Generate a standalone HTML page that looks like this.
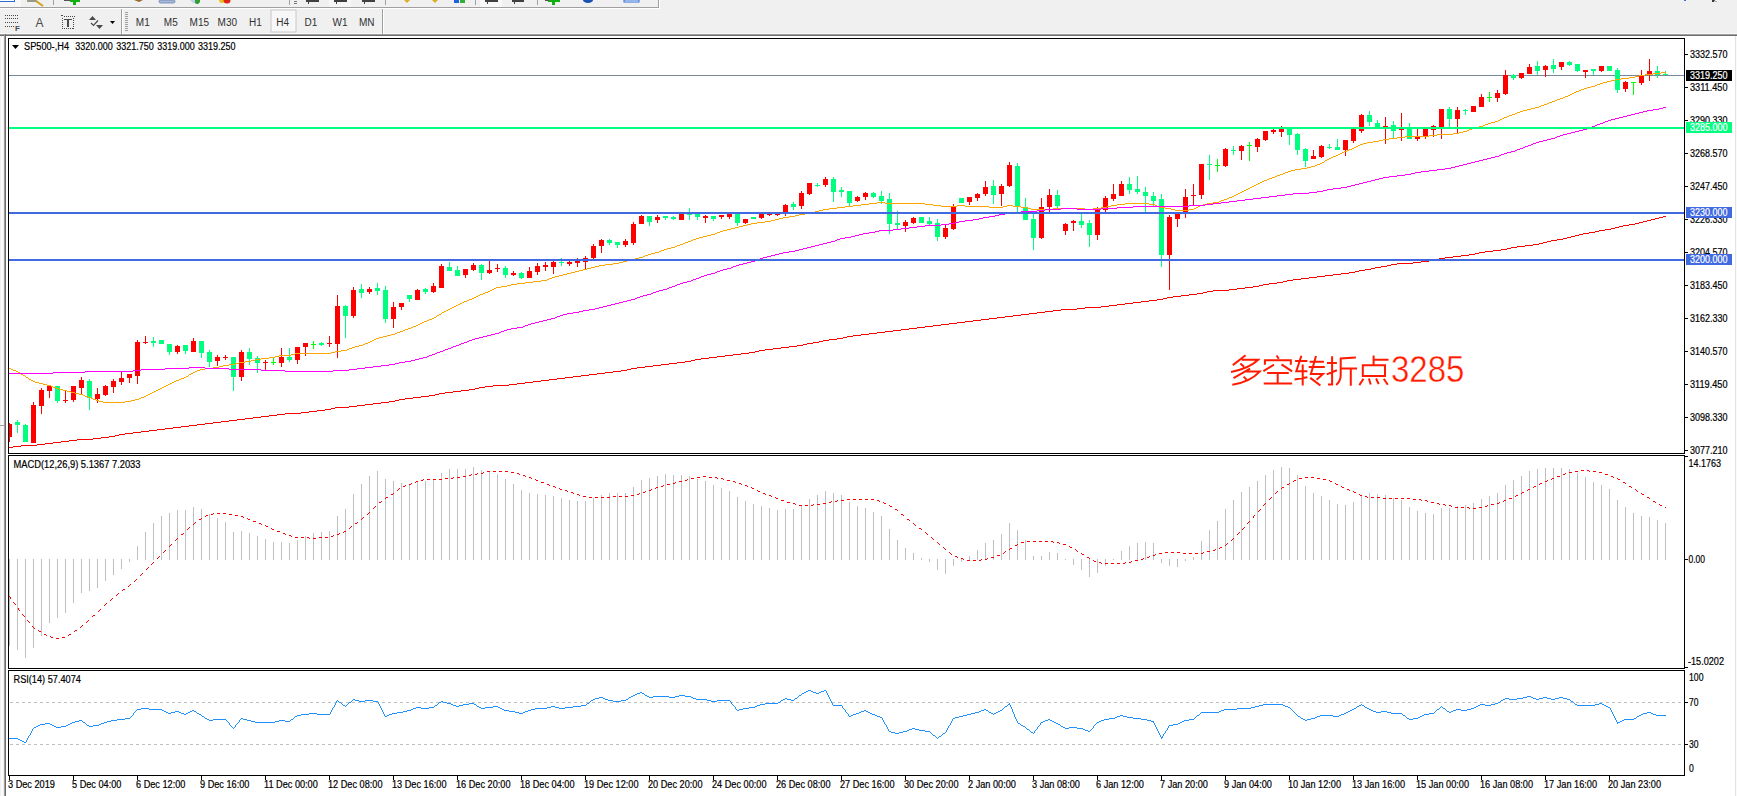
<!DOCTYPE html>
<html><head><meta charset="utf-8"><title>SP500 H4</title>
<style>html,body{margin:0;padding:0;}body{width:1737px;height:796px;overflow:hidden;background:#f0f0f0;font-family:"Liberation Sans",sans-serif;}svg{position:absolute;left:0;top:0;display:block;}</style>
</head><body>
<svg width="1737" height="796" viewBox="0 0 1737 796">
<rect x="0" y="0" width="1737" height="36" fill="#f0f0f0"/>
<rect x="0" y="7" width="659" height="1" fill="#a0a0a0"/>
<rect x="658" y="0" width="1" height="8" fill="#a0a0a0"/>
<rect x="0" y="0" width="21" height="7" fill="#f8f8f8"/>
<rect x="0" y="0" width="15" height="2" fill="#2a6fd6"/><rect x="0" y="0" width="14" height="1" fill="#ffffff"/>
<rect x="27" y="0" width="10" height="2" fill="#9a9a8a"/>
<path d="M36 1 L43 6" stroke="#d4a017" stroke-width="2"/>
<rect x="53" y="0" width="1" height="5" fill="#a0a0a0"/>
<rect x="289" y="0" width="1" height="5" fill="#a0a0a0"/>
<rect x="385" y="0" width="1" height="5" fill="#a0a0a0"/>
<rect x="475" y="0" width="1" height="5" fill="#a0a0a0"/>
<rect x="537" y="0" width="1" height="5" fill="#a0a0a0"/>
<rect x="64" y="0" width="6" height="1" fill="#555"/><rect x="70" y="0" width="10" height="2" fill="#11b011"/><rect x="73" y="0" width="3" height="5" fill="#11b011"/>
<path d="M134 0 L143 0 L139 2 Z" fill="#9a6a2a"/>
<rect x="159" y="0" width="16" height="3" rx="1.5" fill="#a8b8d8" stroke="#6a80b0" stroke-width="0.8"/>
<path d="M190 0 h6 v3 h-3 Z" fill="#c0d0f0"/><path d="M195 0 h5 a3 3 0 0 1 -5 3 Z" fill="#2ea02e"/>
<circle cx="222" cy="0" r="3" fill="#e8c020"/><circle cx="227" cy="0" r="3.5" fill="#e02010"/>
<rect x="294" y="1" width="3" height="1" fill="#777"/><rect x="294" y="3" width="3" height="1" fill="#777"/>
<rect x="306" y="0" width="13" height="2" fill="#404040"/><rect x="308" y="2" width="1" height="2" fill="#404040"/>
<rect x="329" y="0" width="22" height="7" fill="#f8f8f8"/><rect x="334" y="0" width="13" height="2" fill="#404040"/><rect x="336" y="2" width="1" height="2" fill="#404040"/>
<rect x="362" y="0" width="13" height="2" fill="#404040"/><rect x="364" y="2" width="1" height="2" fill="#404040"/>
<path d="M404 0 h6 l-3 3 Z" fill="#d8b020"/><path d="M432 0 h6 l-3 3 Z" fill="#d8b020"/>
<rect x="454" y="0" width="5" height="3" fill="#2060e0"/><rect x="460" y="0" width="5" height="3" fill="#30b030"/>
<rect x="480" y="0" width="22" height="7" fill="#f8f8f8"/><rect x="485" y="0" width="13" height="2" fill="#404040"/><rect x="487" y="2" width="1" height="2" fill="#404040"/>
<rect x="512" y="0" width="12" height="2" fill="#404040"/><rect x="514" y="2" width="1" height="2" fill="#404040"/>
<rect x="548" y="0" width="12" height="2" fill="#11b011"/><rect x="552" y="0" width="3" height="5" fill="#11b011"/><rect x="545" y="0" width="4" height="1" fill="#555"/>
<path d="M583 0 h10 a5 3 0 0 1 -10 0 Z" fill="#1a50b0"/>
<rect x="624" y="0" width="15" height="2" fill="#fff" stroke="#2a6fd6" stroke-width="1"/>
<rect x="1684" y="0" width="2" height="1" fill="#3a70d8"/>
<path d="M1712 0 h3 l-1 2 h-2 Z" fill="#3a3a3a"/><rect x="1715" y="1" width="2" height="1" fill="#b0b0b0"/>
<rect x="0" y="8" width="660" height="1" fill="#ffffff"/>
<rect x="659" y="0" width="1" height="8" fill="#ffffff"/>
<rect x="0" y="33" width="1737" height="1" fill="#f8f8f8"/>
<rect x="0" y="34" width="1737" height="1" fill="#a0a0a0"/>
<rect x="0" y="35" width="1737" height="1" fill="#6d6d6d"/>
<rect x="5" y="15" width="1" height="1" fill="#4a4a4a"/>
<rect x="7" y="15" width="1" height="1" fill="#4a4a4a"/>
<rect x="9" y="15" width="1" height="1" fill="#4a4a4a"/>
<rect x="11" y="15" width="1" height="1" fill="#4a4a4a"/>
<rect x="13" y="15" width="1" height="1" fill="#4a4a4a"/>
<rect x="15" y="15" width="1" height="1" fill="#4a4a4a"/>
<rect x="17" y="15" width="1" height="1" fill="#4a4a4a"/>
<rect x="5" y="18" width="1" height="1" fill="#4a4a4a"/>
<rect x="7" y="18" width="1" height="1" fill="#4a4a4a"/>
<rect x="9" y="18" width="1" height="1" fill="#4a4a4a"/>
<rect x="11" y="18" width="1" height="1" fill="#4a4a4a"/>
<rect x="13" y="18" width="1" height="1" fill="#4a4a4a"/>
<rect x="15" y="18" width="1" height="1" fill="#4a4a4a"/>
<rect x="17" y="18" width="1" height="1" fill="#4a4a4a"/>
<rect x="5" y="22" width="1" height="1" fill="#4a4a4a"/>
<rect x="7" y="22" width="1" height="1" fill="#4a4a4a"/>
<rect x="9" y="22" width="1" height="1" fill="#4a4a4a"/>
<rect x="11" y="22" width="1" height="1" fill="#4a4a4a"/>
<rect x="13" y="22" width="1" height="1" fill="#4a4a4a"/>
<rect x="15" y="22" width="1" height="1" fill="#4a4a4a"/>
<rect x="17" y="22" width="1" height="1" fill="#4a4a4a"/>
<rect x="5" y="26" width="1" height="1" fill="#4a4a4a"/>
<rect x="7" y="26" width="1" height="1" fill="#4a4a4a"/>
<rect x="9" y="26" width="1" height="1" fill="#4a4a4a"/>
<rect x="11" y="26" width="1" height="1" fill="#4a4a4a"/>
<rect x="13" y="26" width="1" height="1" fill="#4a4a4a"/>
<text x="15" y="31" font-family='"Liberation Sans", sans-serif' font-size="8" font-weight="bold" fill="#4a4a4a">F</text>
<text x="35.5" y="27" font-family='"Liberation Sans", sans-serif' font-size="12" fill="#4a4a4a">A</text>
<rect x="62" y="28" width="1" height="1" fill="#4a4a4a"/>
<rect x="64" y="16" width="1" height="1" fill="#4a4a4a"/>
<rect x="64" y="28" width="1" height="1" fill="#4a4a4a"/>
<rect x="66" y="16" width="1" height="1" fill="#4a4a4a"/>
<rect x="66" y="28" width="1" height="1" fill="#4a4a4a"/>
<rect x="68" y="16" width="1" height="1" fill="#4a4a4a"/>
<rect x="68" y="28" width="1" height="1" fill="#4a4a4a"/>
<rect x="70" y="16" width="1" height="1" fill="#4a4a4a"/>
<rect x="70" y="28" width="1" height="1" fill="#4a4a4a"/>
<rect x="72" y="16" width="1" height="1" fill="#4a4a4a"/>
<rect x="72" y="28" width="1" height="1" fill="#4a4a4a"/>
<rect x="74" y="16" width="1" height="1" fill="#4a4a4a"/>
<rect x="62" y="18" width="1" height="1" fill="#4a4a4a"/>
<rect x="73" y="18" width="1" height="1" fill="#4a4a4a"/>
<rect x="62" y="20" width="1" height="1" fill="#4a4a4a"/>
<rect x="73" y="20" width="1" height="1" fill="#4a4a4a"/>
<rect x="62" y="22" width="1" height="1" fill="#4a4a4a"/>
<rect x="73" y="22" width="1" height="1" fill="#4a4a4a"/>
<rect x="62" y="24" width="1" height="1" fill="#4a4a4a"/>
<rect x="73" y="24" width="1" height="1" fill="#4a4a4a"/>
<rect x="62" y="26" width="1" height="1" fill="#4a4a4a"/>
<rect x="73" y="26" width="1" height="1" fill="#4a4a4a"/>
<rect x="62" y="28" width="1" height="1" fill="#4a4a4a"/>
<rect x="73" y="28" width="1" height="1" fill="#4a4a4a"/>
<rect x="61" y="15" width="2" height="1" fill="#4a4a4a"/>
<rect x="64" y="19" width="8" height="1" fill="#4a4a4a"/><rect x="67" y="19" width="2" height="8" fill="#4a4a4a"/>
<path d="M89 20 L92.5 16 L96 20 Z" fill="#4a4a4a"/>
<path d="M91 23 L93.5 25.5 L98 20.5" stroke="#4a4a4a" stroke-width="1.2" fill="none"/>
<path d="M96 25 L103 25 L99.5 29 Z" fill="#4a4a4a"/>
<path d="M110 21 L115 21 L112.5 24 Z" fill="#000"/>
<rect x="121" y="9" width="1" height="25" fill="#a0a0a0"/><rect x="122" y="9" width="1" height="25" fill="#ffffff"/>
<rect x="125" y="12" width="3" height="1" fill="#a0a0a0"/>
<rect x="125" y="14" width="3" height="1" fill="#a0a0a0"/>
<rect x="125" y="16" width="3" height="1" fill="#a0a0a0"/>
<rect x="125" y="18" width="3" height="1" fill="#a0a0a0"/>
<rect x="125" y="20" width="3" height="1" fill="#a0a0a0"/>
<rect x="125" y="22" width="3" height="1" fill="#a0a0a0"/>
<rect x="125" y="24" width="3" height="1" fill="#a0a0a0"/>
<rect x="125" y="26" width="3" height="1" fill="#a0a0a0"/>
<rect x="125" y="28" width="3" height="1" fill="#a0a0a0"/>
<rect x="125" y="30" width="3" height="1" fill="#a0a0a0"/>
<rect x="271" y="10" width="25" height="22" fill="#f7f7f7" stroke="#c8c8c8" stroke-width="1"/>
<text x="142.8" y="26" text-anchor="middle" font-family='"Liberation Sans", sans-serif' font-size="10" fill="#303030">M1</text>
<text x="170.8" y="26" text-anchor="middle" font-family='"Liberation Sans", sans-serif' font-size="10" fill="#303030">M5</text>
<text x="199.3" y="26" text-anchor="middle" font-family='"Liberation Sans", sans-serif' font-size="10" fill="#303030">M15</text>
<text x="227.3" y="26" text-anchor="middle" font-family='"Liberation Sans", sans-serif' font-size="10" fill="#303030">M30</text>
<text x="255.4" y="26" text-anchor="middle" font-family='"Liberation Sans", sans-serif' font-size="10" fill="#303030">H1</text>
<text x="282.6" y="26" text-anchor="middle" font-family='"Liberation Sans", sans-serif' font-size="10" fill="#303030">H4</text>
<text x="311" y="26" text-anchor="middle" font-family='"Liberation Sans", sans-serif' font-size="10" fill="#303030">D1</text>
<text x="340" y="26" text-anchor="middle" font-family='"Liberation Sans", sans-serif' font-size="10" fill="#303030">W1</text>
<text x="366.8" y="26" text-anchor="middle" font-family='"Liberation Sans", sans-serif' font-size="10" fill="#303030">MN</text>
<rect x="382" y="9" width="1" height="25" fill="#a0a0a0"/><rect x="383" y="9" width="1" height="25" fill="#ffffff"/>
<rect x="0" y="36" width="1737" height="760" fill="#f0f0f0"/>
<rect x="1" y="36" width="2" height="760" fill="#fbfbfb"/>
<rect x="4" y="34" width="1" height="762" fill="#a0a0a0"/>
<rect x="5" y="34" width="1" height="762" fill="#696969"/>
<rect x="6" y="36" width="1729" height="760" fill="#ffffff"/>
<rect x="1735" y="36" width="1" height="760" fill="#e3e3e3"/>
<rect x="1736" y="36" width="1" height="760" fill="#fbfbfb"/>
<rect x="0" y="425" width="4" height="1" fill="#a0a0a0"/>
<rect x="8" y="38" width="1677" height="1" fill="#000"/>
<rect x="8" y="453" width="1677" height="1" fill="#000"/>
<rect x="8" y="38" width="1" height="416" fill="#000"/>
<rect x="1684" y="38" width="1" height="416" fill="#000"/>
<rect x="8" y="455" width="1677" height="1" fill="#000"/>
<rect x="8" y="668" width="1677" height="1" fill="#000"/>
<rect x="8" y="455" width="1" height="214" fill="#000"/>
<rect x="1684" y="455" width="1" height="214" fill="#000"/>
<rect x="8" y="670" width="1677" height="1" fill="#000"/>
<rect x="8" y="775" width="1677" height="1" fill="#000"/>
<rect x="8" y="670" width="1" height="106" fill="#000"/>
<rect x="1684" y="670" width="1" height="106" fill="#000"/>
<clipPath id="cm"><rect x="9" y="39" width="1675" height="414"/></clipPath>
<g clip-path="url(#cm)">
<rect x="9" y="75" width="1675" height="1" fill="#778899"/>
<rect x="9" y="423" width="1" height="19" fill="#ff0000"/>
<rect x="7" y="424" width="5" height="13" fill="#ff0000"/>
<rect x="17" y="420" width="1" height="13" fill="#00ff7f"/>
<rect x="15" y="422" width="5" height="3" fill="#00ff7f"/>
<rect x="25" y="424" width="1" height="18" fill="#00ff7f"/>
<rect x="23" y="425" width="5" height="17" fill="#00ff7f"/>
<rect x="33" y="402" width="1" height="41" fill="#ff0000"/>
<rect x="31" y="405" width="5" height="38" fill="#ff0000"/>
<rect x="41" y="388" width="1" height="26" fill="#ff0000"/>
<rect x="39" y="390" width="5" height="16" fill="#ff0000"/>
<rect x="49" y="385" width="1" height="13" fill="#ff0000"/>
<rect x="47" y="386" width="5" height="5" fill="#ff0000"/>
<rect x="57" y="386" width="1" height="17" fill="#00ff7f"/>
<rect x="55" y="386" width="5" height="15" fill="#00ff7f"/>
<rect x="65" y="391" width="1" height="12" fill="#ff0000"/>
<rect x="63" y="400" width="5" height="1" fill="#ff0000"/>
<rect x="73" y="386" width="1" height="16" fill="#ff0000"/>
<rect x="71" y="386" width="5" height="14" fill="#ff0000"/>
<rect x="81" y="377" width="1" height="17" fill="#ff0000"/>
<rect x="79" y="380" width="5" height="8" fill="#ff0000"/>
<rect x="89" y="379" width="1" height="31" fill="#00ff7f"/>
<rect x="87" y="381" width="5" height="17" fill="#00ff7f"/>
<rect x="97" y="388" width="1" height="15" fill="#ff0000"/>
<rect x="95" y="394" width="5" height="5" fill="#ff0000"/>
<rect x="105" y="385" width="1" height="11" fill="#ff0000"/>
<rect x="103" y="386" width="5" height="9" fill="#ff0000"/>
<rect x="113" y="379" width="1" height="14" fill="#ff0000"/>
<rect x="111" y="381" width="5" height="6" fill="#ff0000"/>
<rect x="121" y="371" width="1" height="14" fill="#ff0000"/>
<rect x="119" y="378" width="5" height="4" fill="#ff0000"/>
<rect x="129" y="374" width="1" height="9" fill="#ff0000"/>
<rect x="127" y="374" width="5" height="4" fill="#ff0000"/>
<rect x="137" y="340" width="1" height="44" fill="#ff0000"/>
<rect x="135" y="342" width="5" height="34" fill="#ff0000"/>
<rect x="145" y="336" width="1" height="8" fill="#ff0000"/>
<rect x="143" y="342" width="5" height="1" fill="#ff0000"/>
<rect x="153" y="337" width="1" height="10" fill="#00ff7f"/>
<rect x="151" y="341" width="5" height="2" fill="#00ff7f"/>
<rect x="161" y="340" width="1" height="4" fill="#00ff7f"/>
<rect x="159" y="340" width="5" height="4" fill="#00ff7f"/>
<rect x="169" y="344" width="1" height="11" fill="#00ff7f"/>
<rect x="167" y="344" width="5" height="8" fill="#00ff7f"/>
<rect x="177" y="345" width="1" height="9" fill="#ff0000"/>
<rect x="175" y="346" width="5" height="6" fill="#ff0000"/>
<rect x="185" y="345" width="1" height="9" fill="#00ff7f"/>
<rect x="183" y="345" width="5" height="6" fill="#00ff7f"/>
<rect x="193" y="338" width="1" height="14" fill="#ff0000"/>
<rect x="191" y="341" width="5" height="11" fill="#ff0000"/>
<rect x="201" y="341" width="1" height="17" fill="#00ff7f"/>
<rect x="199" y="341" width="5" height="12" fill="#00ff7f"/>
<rect x="209" y="350" width="1" height="17" fill="#00ff7f"/>
<rect x="207" y="352" width="5" height="10" fill="#00ff7f"/>
<rect x="217" y="355" width="1" height="11" fill="#ff0000"/>
<rect x="215" y="357" width="5" height="4" fill="#ff0000"/>
<rect x="225" y="355" width="1" height="5" fill="#ff0000"/>
<rect x="223" y="357" width="5" height="1" fill="#ff0000"/>
<rect x="233" y="357" width="1" height="34" fill="#00ff7f"/>
<rect x="231" y="357" width="5" height="20" fill="#00ff7f"/>
<rect x="241" y="350" width="1" height="31" fill="#ff0000"/>
<rect x="239" y="352" width="5" height="25" fill="#ff0000"/>
<rect x="249" y="348" width="1" height="17" fill="#00ff7f"/>
<rect x="247" y="352" width="5" height="7" fill="#00ff7f"/>
<rect x="257" y="356" width="1" height="17" fill="#00ff7f"/>
<rect x="255" y="358" width="5" height="5" fill="#00ff7f"/>
<rect x="265" y="360" width="1" height="10" fill="#ff0000"/>
<rect x="263" y="362" width="5" height="1" fill="#ff0000"/>
<rect x="273" y="358" width="1" height="7" fill="#00ff00"/>
<rect x="271" y="362" width="5" height="1" fill="#00ff00"/>
<rect x="281" y="348" width="1" height="19" fill="#ff0000"/>
<rect x="279" y="357" width="5" height="6" fill="#ff0000"/>
<rect x="289" y="348" width="1" height="14" fill="#00ff7f"/>
<rect x="287" y="357" width="5" height="3" fill="#00ff7f"/>
<rect x="297" y="347" width="1" height="17" fill="#ff0000"/>
<rect x="295" y="347" width="5" height="13" fill="#ff0000"/>
<rect x="305" y="343" width="1" height="13" fill="#ff0000"/>
<rect x="303" y="343" width="5" height="4" fill="#ff0000"/>
<rect x="313" y="341" width="1" height="8" fill="#00ff00"/>
<rect x="311" y="344" width="5" height="1" fill="#00ff00"/>
<rect x="321" y="342" width="1" height="4" fill="#00ff7f"/>
<rect x="319" y="343" width="5" height="2" fill="#00ff7f"/>
<rect x="329" y="336" width="1" height="11" fill="#ff0000"/>
<rect x="327" y="343" width="5" height="1" fill="#ff0000"/>
<rect x="337" y="295" width="1" height="63" fill="#ff0000"/>
<rect x="335" y="306" width="5" height="38" fill="#ff0000"/>
<rect x="345" y="305" width="1" height="33" fill="#00ff7f"/>
<rect x="343" y="306" width="5" height="10" fill="#00ff7f"/>
<rect x="353" y="287" width="1" height="31" fill="#ff0000"/>
<rect x="351" y="290" width="5" height="26" fill="#ff0000"/>
<rect x="361" y="284" width="1" height="14" fill="#00ff7f"/>
<rect x="359" y="289" width="5" height="4" fill="#00ff7f"/>
<rect x="369" y="287" width="1" height="7" fill="#ff0000"/>
<rect x="367" y="289" width="5" height="3" fill="#ff0000"/>
<rect x="377" y="283" width="1" height="12" fill="#00ff7f"/>
<rect x="375" y="288" width="5" height="3" fill="#00ff7f"/>
<rect x="385" y="286" width="1" height="37" fill="#00ff7f"/>
<rect x="383" y="290" width="5" height="29" fill="#00ff7f"/>
<rect x="393" y="302" width="1" height="26" fill="#ff0000"/>
<rect x="391" y="307" width="5" height="12" fill="#ff0000"/>
<rect x="401" y="303" width="1" height="7" fill="#ff0000"/>
<rect x="399" y="303" width="5" height="4" fill="#ff0000"/>
<rect x="409" y="295" width="1" height="7" fill="#00ff7f"/>
<rect x="407" y="295" width="5" height="4" fill="#00ff7f"/>
<rect x="417" y="289" width="1" height="11" fill="#ff0000"/>
<rect x="415" y="290" width="5" height="10" fill="#ff0000"/>
<rect x="425" y="288" width="1" height="6" fill="#00ff7f"/>
<rect x="423" y="289" width="5" height="3" fill="#00ff7f"/>
<rect x="433" y="283" width="1" height="10" fill="#ff0000"/>
<rect x="431" y="286" width="5" height="6" fill="#ff0000"/>
<rect x="441" y="264" width="1" height="24" fill="#ff0000"/>
<rect x="439" y="266" width="5" height="22" fill="#ff0000"/>
<rect x="449" y="262" width="1" height="9" fill="#00ff7f"/>
<rect x="447" y="267" width="5" height="4" fill="#00ff7f"/>
<rect x="457" y="266" width="1" height="10" fill="#00ff7f"/>
<rect x="455" y="270" width="5" height="6" fill="#00ff7f"/>
<rect x="465" y="269" width="1" height="9" fill="#ff0000"/>
<rect x="463" y="269" width="5" height="6" fill="#ff0000"/>
<rect x="473" y="263" width="1" height="8" fill="#ff0000"/>
<rect x="471" y="265" width="5" height="5" fill="#ff0000"/>
<rect x="481" y="264" width="1" height="16" fill="#00ff7f"/>
<rect x="479" y="265" width="5" height="8" fill="#00ff7f"/>
<rect x="489" y="261" width="1" height="13" fill="#ff0000"/>
<rect x="487" y="270" width="5" height="3" fill="#ff0000"/>
<rect x="497" y="264" width="1" height="8" fill="#ff0000"/>
<rect x="495" y="268" width="5" height="1" fill="#ff0000"/>
<rect x="505" y="266" width="1" height="12" fill="#00ff7f"/>
<rect x="503" y="268" width="5" height="7" fill="#00ff7f"/>
<rect x="513" y="271" width="1" height="5" fill="#ff0000"/>
<rect x="511" y="273" width="5" height="2" fill="#ff0000"/>
<rect x="521" y="272" width="1" height="7" fill="#00ff7f"/>
<rect x="519" y="273" width="5" height="5" fill="#00ff7f"/>
<rect x="529" y="267" width="1" height="11" fill="#ff0000"/>
<rect x="527" y="271" width="5" height="7" fill="#ff0000"/>
<rect x="537" y="263" width="1" height="12" fill="#ff0000"/>
<rect x="535" y="266" width="5" height="6" fill="#ff0000"/>
<rect x="545" y="262" width="1" height="9" fill="#ff0000"/>
<rect x="543" y="265" width="5" height="2" fill="#ff0000"/>
<rect x="553" y="261" width="1" height="13" fill="#ff0000"/>
<rect x="551" y="262" width="5" height="5" fill="#ff0000"/>
<rect x="561" y="258" width="1" height="8" fill="#00ff7f"/>
<rect x="559" y="262" width="5" height="1" fill="#00ff7f"/>
<rect x="569" y="261" width="1" height="5" fill="#ff0000"/>
<rect x="567" y="262" width="5" height="2" fill="#ff0000"/>
<rect x="577" y="258" width="1" height="9" fill="#ff0000"/>
<rect x="575" y="260" width="5" height="3" fill="#ff0000"/>
<rect x="585" y="256" width="1" height="13" fill="#ff0000"/>
<rect x="583" y="258" width="5" height="4" fill="#ff0000"/>
<rect x="593" y="244" width="1" height="15" fill="#ff0000"/>
<rect x="591" y="246" width="5" height="12" fill="#ff0000"/>
<rect x="601" y="239" width="1" height="14" fill="#ff0000"/>
<rect x="599" y="240" width="5" height="6" fill="#ff0000"/>
<rect x="609" y="239" width="1" height="6" fill="#00ff7f"/>
<rect x="607" y="240" width="5" height="3" fill="#00ff7f"/>
<rect x="617" y="242" width="1" height="6" fill="#00ff7f"/>
<rect x="615" y="242" width="5" height="3" fill="#00ff7f"/>
<rect x="625" y="239" width="1" height="8" fill="#ff0000"/>
<rect x="623" y="241" width="5" height="4" fill="#ff0000"/>
<rect x="633" y="222" width="1" height="23" fill="#ff0000"/>
<rect x="631" y="224" width="5" height="19" fill="#ff0000"/>
<rect x="641" y="215" width="1" height="9" fill="#ff0000"/>
<rect x="639" y="216" width="5" height="8" fill="#ff0000"/>
<rect x="649" y="216" width="1" height="10" fill="#00ff7f"/>
<rect x="647" y="216" width="5" height="6" fill="#00ff7f"/>
<rect x="657" y="215" width="1" height="8" fill="#ff0000"/>
<rect x="655" y="217" width="5" height="3" fill="#ff0000"/>
<rect x="665" y="216" width="1" height="4" fill="#00ff7f"/>
<rect x="663" y="216" width="5" height="2" fill="#00ff7f"/>
<rect x="673" y="216" width="1" height="4" fill="#00ff7f"/>
<rect x="671" y="217" width="5" height="2" fill="#00ff7f"/>
<rect x="681" y="214" width="1" height="6" fill="#ff0000"/>
<rect x="679" y="214" width="5" height="6" fill="#ff0000"/>
<rect x="689" y="208" width="1" height="12" fill="#00ff7f"/>
<rect x="687" y="214" width="5" height="1" fill="#00ff7f"/>
<rect x="697" y="214" width="1" height="6" fill="#00ff7f"/>
<rect x="695" y="214" width="5" height="3" fill="#00ff7f"/>
<rect x="705" y="215" width="1" height="8" fill="#ff0000"/>
<rect x="703" y="216" width="5" height="2" fill="#ff0000"/>
<rect x="713" y="216" width="1" height="5" fill="#00ff7f"/>
<rect x="711" y="216" width="5" height="3" fill="#00ff7f"/>
<rect x="721" y="215" width="1" height="4" fill="#ff0000"/>
<rect x="719" y="215" width="5" height="2" fill="#ff0000"/>
<rect x="729" y="214" width="1" height="5" fill="#ff0000"/>
<rect x="727" y="214" width="5" height="3" fill="#ff0000"/>
<rect x="737" y="214" width="1" height="12" fill="#00ff7f"/>
<rect x="735" y="214" width="5" height="9" fill="#00ff7f"/>
<rect x="745" y="219" width="1" height="5" fill="#ff0000"/>
<rect x="743" y="219" width="5" height="4" fill="#ff0000"/>
<rect x="753" y="217" width="1" height="2" fill="#00ff7f"/>
<rect x="751" y="217" width="5" height="2" fill="#00ff7f"/>
<rect x="761" y="214" width="1" height="5" fill="#ff0000"/>
<rect x="759" y="214" width="5" height="4" fill="#ff0000"/>
<rect x="769" y="213" width="1" height="3" fill="#ff0000"/>
<rect x="767" y="214" width="5" height="1" fill="#ff0000"/>
<rect x="777" y="212" width="1" height="4" fill="#ff0000"/>
<rect x="775" y="213" width="5" height="2" fill="#ff0000"/>
<rect x="785" y="204" width="1" height="12" fill="#ff0000"/>
<rect x="783" y="205" width="5" height="7" fill="#ff0000"/>
<rect x="793" y="202" width="1" height="8" fill="#00ff7f"/>
<rect x="791" y="204" width="5" height="3" fill="#00ff7f"/>
<rect x="801" y="191" width="1" height="18" fill="#ff0000"/>
<rect x="799" y="193" width="5" height="13" fill="#ff0000"/>
<rect x="809" y="183" width="1" height="12" fill="#ff0000"/>
<rect x="807" y="183" width="5" height="11" fill="#ff0000"/>
<rect x="817" y="183" width="1" height="4" fill="#00ff7f"/>
<rect x="815" y="185" width="5" height="1" fill="#00ff7f"/>
<rect x="825" y="177" width="1" height="10" fill="#ff0000"/>
<rect x="823" y="179" width="5" height="6" fill="#ff0000"/>
<rect x="833" y="177" width="1" height="25" fill="#00ff7f"/>
<rect x="831" y="179" width="5" height="13" fill="#00ff7f"/>
<rect x="841" y="187" width="1" height="10" fill="#00ff7f"/>
<rect x="839" y="190" width="5" height="2" fill="#00ff7f"/>
<rect x="849" y="191" width="1" height="15" fill="#00ff7f"/>
<rect x="847" y="191" width="5" height="12" fill="#00ff7f"/>
<rect x="857" y="196" width="1" height="6" fill="#ff0000"/>
<rect x="855" y="197" width="5" height="4" fill="#ff0000"/>
<rect x="865" y="192" width="1" height="8" fill="#ff0000"/>
<rect x="863" y="193" width="5" height="4" fill="#ff0000"/>
<rect x="873" y="192" width="1" height="6" fill="#00ff7f"/>
<rect x="871" y="193" width="5" height="4" fill="#00ff7f"/>
<rect x="881" y="191" width="1" height="13" fill="#00ff7f"/>
<rect x="879" y="196" width="5" height="5" fill="#00ff7f"/>
<rect x="889" y="193" width="1" height="41" fill="#00ff7f"/>
<rect x="887" y="199" width="5" height="25" fill="#00ff7f"/>
<rect x="897" y="211" width="1" height="18" fill="#00ff7f"/>
<rect x="895" y="223" width="5" height="2" fill="#00ff7f"/>
<rect x="905" y="220" width="1" height="12" fill="#ff0000"/>
<rect x="903" y="222" width="5" height="4" fill="#ff0000"/>
<rect x="913" y="217" width="1" height="7" fill="#ff0000"/>
<rect x="911" y="218" width="5" height="5" fill="#ff0000"/>
<rect x="921" y="217" width="1" height="6" fill="#00ff7f"/>
<rect x="919" y="217" width="5" height="6" fill="#00ff7f"/>
<rect x="929" y="217" width="1" height="8" fill="#00ff7f"/>
<rect x="927" y="221" width="5" height="3" fill="#00ff7f"/>
<rect x="937" y="219" width="1" height="22" fill="#00ff7f"/>
<rect x="935" y="223" width="5" height="14" fill="#00ff7f"/>
<rect x="945" y="225" width="1" height="14" fill="#ff0000"/>
<rect x="943" y="228" width="5" height="9" fill="#ff0000"/>
<rect x="953" y="204" width="1" height="26" fill="#ff0000"/>
<rect x="951" y="206" width="5" height="23" fill="#ff0000"/>
<rect x="961" y="198" width="1" height="5" fill="#00ff7f"/>
<rect x="959" y="198" width="5" height="5" fill="#00ff7f"/>
<rect x="969" y="197" width="1" height="8" fill="#ff0000"/>
<rect x="967" y="197" width="5" height="5" fill="#ff0000"/>
<rect x="977" y="193" width="1" height="8" fill="#ff0000"/>
<rect x="975" y="194" width="5" height="4" fill="#ff0000"/>
<rect x="985" y="181" width="1" height="15" fill="#ff0000"/>
<rect x="983" y="187" width="5" height="7" fill="#ff0000"/>
<rect x="993" y="180" width="1" height="24" fill="#00ff7f"/>
<rect x="991" y="186" width="5" height="9" fill="#00ff7f"/>
<rect x="1001" y="184" width="1" height="22" fill="#ff0000"/>
<rect x="999" y="186" width="5" height="8" fill="#ff0000"/>
<rect x="1009" y="162" width="1" height="25" fill="#ff0000"/>
<rect x="1007" y="165" width="5" height="21" fill="#ff0000"/>
<rect x="1017" y="163" width="1" height="49" fill="#00ff7f"/>
<rect x="1015" y="166" width="5" height="41" fill="#00ff7f"/>
<rect x="1025" y="198" width="1" height="22" fill="#00ff7f"/>
<rect x="1023" y="207" width="5" height="13" fill="#00ff7f"/>
<rect x="1033" y="214" width="1" height="36" fill="#00ff7f"/>
<rect x="1031" y="219" width="5" height="19" fill="#00ff7f"/>
<rect x="1041" y="198" width="1" height="41" fill="#ff0000"/>
<rect x="1039" y="207" width="5" height="31" fill="#ff0000"/>
<rect x="1049" y="189" width="1" height="23" fill="#ff0000"/>
<rect x="1047" y="195" width="5" height="12" fill="#ff0000"/>
<rect x="1057" y="190" width="1" height="18" fill="#00ff7f"/>
<rect x="1055" y="195" width="5" height="11" fill="#00ff7f"/>
<rect x="1065" y="223" width="1" height="12" fill="#ff0000"/>
<rect x="1063" y="224" width="5" height="7" fill="#ff0000"/>
<rect x="1073" y="220" width="1" height="11" fill="#ff0000"/>
<rect x="1071" y="221" width="5" height="2" fill="#ff0000"/>
<rect x="1081" y="214" width="1" height="14" fill="#00ff7f"/>
<rect x="1079" y="221" width="5" height="4" fill="#00ff7f"/>
<rect x="1089" y="220" width="1" height="27" fill="#00ff7f"/>
<rect x="1087" y="223" width="5" height="12" fill="#00ff7f"/>
<rect x="1097" y="207" width="1" height="33" fill="#ff0000"/>
<rect x="1095" y="210" width="5" height="25" fill="#ff0000"/>
<rect x="1105" y="196" width="1" height="16" fill="#ff0000"/>
<rect x="1103" y="198" width="5" height="12" fill="#ff0000"/>
<rect x="1113" y="184" width="1" height="17" fill="#ff0000"/>
<rect x="1111" y="194" width="5" height="5" fill="#ff0000"/>
<rect x="1121" y="181" width="1" height="15" fill="#ff0000"/>
<rect x="1119" y="184" width="5" height="12" fill="#ff0000"/>
<rect x="1129" y="177" width="1" height="17" fill="#00ff7f"/>
<rect x="1127" y="184" width="5" height="6" fill="#00ff7f"/>
<rect x="1137" y="176" width="1" height="18" fill="#00ff7f"/>
<rect x="1135" y="189" width="5" height="3" fill="#00ff7f"/>
<rect x="1145" y="187" width="1" height="25" fill="#00ff7f"/>
<rect x="1143" y="192" width="5" height="4" fill="#00ff7f"/>
<rect x="1153" y="192" width="1" height="14" fill="#00ff7f"/>
<rect x="1151" y="196" width="5" height="5" fill="#00ff7f"/>
<rect x="1161" y="194" width="1" height="73" fill="#00ff7f"/>
<rect x="1159" y="199" width="5" height="56" fill="#00ff7f"/>
<rect x="1169" y="215" width="1" height="75" fill="#ff0000"/>
<rect x="1167" y="217" width="5" height="38" fill="#ff0000"/>
<rect x="1177" y="212" width="1" height="15" fill="#ff0000"/>
<rect x="1175" y="214" width="5" height="5" fill="#ff0000"/>
<rect x="1185" y="189" width="1" height="29" fill="#ff0000"/>
<rect x="1183" y="197" width="5" height="15" fill="#ff0000"/>
<rect x="1193" y="184" width="1" height="21" fill="#ff0000"/>
<rect x="1191" y="195" width="5" height="1" fill="#ff0000"/>
<rect x="1201" y="164" width="1" height="35" fill="#ff0000"/>
<rect x="1199" y="164" width="5" height="31" fill="#ff0000"/>
<rect x="1209" y="155" width="1" height="25" fill="#00ff7f"/>
<rect x="1207" y="164" width="5" height="1" fill="#00ff7f"/>
<rect x="1217" y="159" width="1" height="13" fill="#00ff00"/>
<rect x="1215" y="165" width="5" height="1" fill="#00ff00"/>
<rect x="1225" y="148" width="1" height="19" fill="#ff0000"/>
<rect x="1223" y="149" width="5" height="17" fill="#ff0000"/>
<rect x="1233" y="146" width="1" height="9" fill="#00ff7f"/>
<rect x="1231" y="150" width="5" height="1" fill="#00ff7f"/>
<rect x="1241" y="145" width="1" height="15" fill="#ff0000"/>
<rect x="1239" y="146" width="5" height="5" fill="#ff0000"/>
<rect x="1249" y="142" width="1" height="19" fill="#00ff00"/>
<rect x="1247" y="145" width="5" height="1" fill="#00ff00"/>
<rect x="1257" y="138" width="1" height="14" fill="#ff0000"/>
<rect x="1255" y="139" width="5" height="8" fill="#ff0000"/>
<rect x="1265" y="131" width="1" height="10" fill="#ff0000"/>
<rect x="1263" y="131" width="5" height="9" fill="#ff0000"/>
<rect x="1273" y="129" width="1" height="5" fill="#ff0000"/>
<rect x="1271" y="130" width="5" height="2" fill="#ff0000"/>
<rect x="1281" y="126" width="1" height="11" fill="#ff0000"/>
<rect x="1279" y="128" width="5" height="4" fill="#ff0000"/>
<rect x="1289" y="128" width="1" height="17" fill="#00ff7f"/>
<rect x="1287" y="128" width="5" height="7" fill="#00ff7f"/>
<rect x="1297" y="133" width="1" height="22" fill="#00ff7f"/>
<rect x="1295" y="134" width="5" height="16" fill="#00ff7f"/>
<rect x="1305" y="148" width="1" height="19" fill="#00ff7f"/>
<rect x="1303" y="149" width="5" height="12" fill="#00ff7f"/>
<rect x="1313" y="150" width="1" height="9" fill="#ff0000"/>
<rect x="1311" y="156" width="5" height="3" fill="#ff0000"/>
<rect x="1321" y="145" width="1" height="13" fill="#ff0000"/>
<rect x="1319" y="146" width="5" height="11" fill="#ff0000"/>
<rect x="1329" y="144" width="1" height="5" fill="#00ff7f"/>
<rect x="1327" y="147" width="5" height="1" fill="#00ff7f"/>
<rect x="1337" y="139" width="1" height="11" fill="#00ff7f"/>
<rect x="1335" y="147" width="5" height="3" fill="#00ff7f"/>
<rect x="1345" y="140" width="1" height="16" fill="#ff0000"/>
<rect x="1343" y="140" width="5" height="10" fill="#ff0000"/>
<rect x="1353" y="129" width="1" height="14" fill="#ff0000"/>
<rect x="1351" y="129" width="5" height="12" fill="#ff0000"/>
<rect x="1361" y="114" width="1" height="19" fill="#ff0000"/>
<rect x="1359" y="115" width="5" height="16" fill="#ff0000"/>
<rect x="1369" y="111" width="1" height="15" fill="#00ff7f"/>
<rect x="1367" y="115" width="5" height="7" fill="#00ff7f"/>
<rect x="1377" y="120" width="1" height="8" fill="#00ff7f"/>
<rect x="1375" y="123" width="5" height="4" fill="#00ff7f"/>
<rect x="1385" y="117" width="1" height="27" fill="#ff0000"/>
<rect x="1383" y="126" width="5" height="1" fill="#ff0000"/>
<rect x="1393" y="121" width="1" height="17" fill="#00ff7f"/>
<rect x="1391" y="125" width="5" height="6" fill="#00ff7f"/>
<rect x="1401" y="113" width="1" height="28" fill="#ff0000"/>
<rect x="1399" y="129" width="5" height="1" fill="#ff0000"/>
<rect x="1409" y="123" width="1" height="16" fill="#00ff7f"/>
<rect x="1407" y="128" width="5" height="11" fill="#00ff7f"/>
<rect x="1417" y="129" width="1" height="12" fill="#ff0000"/>
<rect x="1415" y="137" width="5" height="2" fill="#ff0000"/>
<rect x="1425" y="129" width="1" height="10" fill="#ff0000"/>
<rect x="1423" y="129" width="5" height="7" fill="#ff0000"/>
<rect x="1433" y="125" width="1" height="12" fill="#ff0000"/>
<rect x="1431" y="126" width="5" height="4" fill="#ff0000"/>
<rect x="1441" y="109" width="1" height="30" fill="#ff0000"/>
<rect x="1439" y="109" width="5" height="18" fill="#ff0000"/>
<rect x="1449" y="107" width="1" height="20" fill="#00ff7f"/>
<rect x="1447" y="109" width="5" height="10" fill="#00ff7f"/>
<rect x="1457" y="107" width="1" height="27" fill="#ff0000"/>
<rect x="1455" y="110" width="5" height="9" fill="#ff0000"/>
<rect x="1465" y="109" width="1" height="6" fill="#00ff7f"/>
<rect x="1463" y="110" width="5" height="1" fill="#00ff7f"/>
<rect x="1473" y="106" width="1" height="6" fill="#ff0000"/>
<rect x="1471" y="106" width="5" height="6" fill="#ff0000"/>
<rect x="1481" y="94" width="1" height="13" fill="#ff0000"/>
<rect x="1479" y="97" width="5" height="10" fill="#ff0000"/>
<rect x="1489" y="92" width="1" height="10" fill="#00ff00"/>
<rect x="1487" y="97" width="5" height="1" fill="#00ff00"/>
<rect x="1497" y="90" width="1" height="12" fill="#ff0000"/>
<rect x="1495" y="93" width="5" height="5" fill="#ff0000"/>
<rect x="1505" y="70" width="1" height="25" fill="#ff0000"/>
<rect x="1503" y="75" width="5" height="19" fill="#ff0000"/>
<rect x="1513" y="74" width="1" height="6" fill="#00ff7f"/>
<rect x="1511" y="75" width="5" height="3" fill="#00ff7f"/>
<rect x="1521" y="73" width="1" height="6" fill="#ff0000"/>
<rect x="1519" y="73" width="5" height="5" fill="#ff0000"/>
<rect x="1529" y="64" width="1" height="10" fill="#ff0000"/>
<rect x="1527" y="67" width="5" height="7" fill="#ff0000"/>
<rect x="1537" y="61" width="1" height="14" fill="#00ff7f"/>
<rect x="1535" y="66" width="5" height="5" fill="#00ff7f"/>
<rect x="1545" y="65" width="1" height="12" fill="#ff0000"/>
<rect x="1543" y="66" width="5" height="4" fill="#ff0000"/>
<rect x="1553" y="59" width="1" height="14" fill="#00ff7f"/>
<rect x="1551" y="65" width="5" height="4" fill="#00ff7f"/>
<rect x="1561" y="62" width="1" height="8" fill="#ff0000"/>
<rect x="1559" y="62" width="5" height="5" fill="#ff0000"/>
<rect x="1569" y="61" width="1" height="5" fill="#00ff7f"/>
<rect x="1567" y="62" width="5" height="3" fill="#00ff7f"/>
<rect x="1577" y="64" width="1" height="8" fill="#00ff7f"/>
<rect x="1575" y="64" width="5" height="7" fill="#00ff7f"/>
<rect x="1585" y="70" width="1" height="8" fill="#ff0000"/>
<rect x="1583" y="70" width="5" height="2" fill="#ff0000"/>
<rect x="1593" y="69" width="1" height="6" fill="#00ff7f"/>
<rect x="1591" y="69" width="5" height="2" fill="#00ff7f"/>
<rect x="1601" y="66" width="1" height="6" fill="#ff0000"/>
<rect x="1599" y="66" width="5" height="5" fill="#ff0000"/>
<rect x="1609" y="66" width="1" height="5" fill="#00ff7f"/>
<rect x="1607" y="66" width="5" height="5" fill="#00ff7f"/>
<rect x="1617" y="68" width="1" height="25" fill="#00ff7f"/>
<rect x="1615" y="70" width="5" height="20" fill="#00ff7f"/>
<rect x="1625" y="81" width="1" height="11" fill="#ff0000"/>
<rect x="1623" y="82" width="5" height="7" fill="#ff0000"/>
<rect x="1633" y="82" width="1" height="13" fill="#00ff00"/>
<rect x="1631" y="82" width="5" height="1" fill="#00ff00"/>
<rect x="1641" y="70" width="1" height="15" fill="#ff0000"/>
<rect x="1639" y="76" width="5" height="7" fill="#ff0000"/>
<rect x="1649" y="59" width="1" height="22" fill="#ff0000"/>
<rect x="1647" y="71" width="5" height="4" fill="#ff0000"/>
<rect x="1657" y="66" width="1" height="12" fill="#00ff7f"/>
<rect x="1655" y="71" width="5" height="4" fill="#00ff7f"/>
<rect x="1665" y="71" width="1" height="4" fill="#00ff7f"/>
<rect x="1663" y="74" width="5" height="1" fill="#00ff7f"/>
<path d="M1663 216h3v1h-3zM1659 217h4v1h-4zM1655 218h4v1h-4zM1651 219h4v1h-4zM1647 220h4v1h-4zM1643 221h4v1h-4zM1639 222h4v1h-4zM1635 223h4v1h-4zM1629 224h6v1h-6zM1623 225h6v1h-6zM1619 226h4v1h-4zM1615 227h4v1h-4zM1611 228h4v1h-4zM1605 229h6v1h-6zM1599 230h6v1h-6zM1595 231h4v1h-4zM1589 232h6v1h-6zM1583 233h6v1h-6zM1579 234h4v1h-4zM1575 235h4v1h-4zM1571 236h4v1h-4zM1567 237h4v1h-4zM1563 238h4v1h-4zM1557 239h6v1h-6zM1551 240h6v1h-6zM1547 241h4v1h-4zM1543 242h4v1h-4zM1539 243h4v1h-4zM1533 244h6v1h-6zM1525 245h8v1h-8zM1517 246h8v1h-8zM1511 247h6v1h-6zM1507 248h4v1h-4zM1501 249h6v1h-6zM1493 250h8v1h-8zM1485 251h8v1h-8zM1479 252h6v1h-6zM1475 253h4v1h-4zM1469 254h6v1h-6zM1461 255h8v1h-8zM1453 256h8v1h-8zM1445 257h8v1h-8zM1439 258h6v1h-6zM1435 259h4v1h-4zM1429 260h6v1h-6zM1421 261h8v1h-8zM1413 262h8v1h-8zM1397 263h16v1h-16zM1391 264h6v1h-6zM1387 265h4v1h-4zM1381 266h6v1h-6zM1375 267h6v1h-6zM1371 268h4v1h-4zM1365 269h6v1h-6zM1359 270h6v1h-6zM1355 271h4v1h-4zM1349 272h6v1h-6zM1341 273h8v1h-8zM1333 274h8v1h-8zM1325 275h8v1h-8zM1317 276h8v1h-8zM1309 277h8v1h-8zM1301 278h8v1h-8zM1293 279h8v1h-8zM1287 280h6v1h-6zM1283 281h4v1h-4zM1277 282h6v1h-6zM1269 283h8v1h-8zM1263 284h6v1h-6zM1259 285h4v1h-4zM1253 286h6v1h-6zM1245 287h8v1h-8zM1237 288h8v1h-8zM1229 289h8v1h-8zM1213 290h16v1h-16zM1207 291h6v1h-6zM1203 292h4v1h-4zM1197 293h6v1h-6zM1189 294h8v1h-8zM1181 295h8v1h-8zM1173 296h8v1h-8zM1167 297h6v1h-6zM1163 298h4v1h-4zM1157 299h6v1h-6zM1149 300h8v1h-8zM1141 301h8v1h-8zM1133 302h8v1h-8zM1125 303h8v1h-8zM1117 304h8v1h-8zM1109 305h8v1h-8zM1101 306h8v1h-8zM1085 307h16v1h-16zM1077 308h8v1h-8zM1061 309h16v1h-16zM1053 310h8v1h-8zM1045 311h8v1h-8zM1037 312h8v1h-8zM1029 313h8v1h-8zM1021 314h8v1h-8zM1013 315h8v1h-8zM1005 316h8v1h-8zM997 317h8v1h-8zM989 318h8v1h-8zM981 319h8v1h-8zM973 320h8v1h-8zM965 321h8v1h-8zM957 322h8v1h-8zM949 323h8v1h-8zM941 324h8v1h-8zM933 325h8v1h-8zM925 326h8v1h-8zM917 327h8v1h-8zM909 328h8v1h-8zM901 329h8v1h-8zM893 330h8v1h-8zM885 331h8v1h-8zM877 332h8v1h-8zM869 333h8v1h-8zM861 334h8v1h-8zM853 335h8v1h-8zM847 336h6v1h-6zM843 337h4v1h-4zM837 338h6v1h-6zM829 339h8v1h-8zM823 340h6v1h-6zM819 341h4v1h-4zM813 342h6v1h-6zM807 343h6v1h-6zM803 344h4v1h-4zM797 345h6v1h-6zM789 346h8v1h-8zM781 347h8v1h-8zM773 348h8v1h-8zM765 349h8v1h-8zM759 350h6v1h-6zM755 351h4v1h-4zM749 352h6v1h-6zM741 353h8v1h-8zM733 354h8v1h-8zM725 355h8v1h-8zM717 356h8v1h-8zM709 357h8v1h-8zM701 358h8v1h-8zM695 359h6v1h-6zM691 360h4v1h-4zM685 361h6v1h-6zM677 362h8v1h-8zM669 363h8v1h-8zM661 364h8v1h-8zM653 365h8v1h-8zM645 366h8v1h-8zM637 367h8v1h-8zM631 368h6v1h-6zM627 369h4v1h-4zM621 370h6v1h-6zM613 371h8v1h-8zM605 372h8v1h-8zM597 373h8v1h-8zM589 374h8v1h-8zM581 375h8v1h-8zM573 376h8v1h-8zM565 377h8v1h-8zM557 378h8v1h-8zM549 379h8v1h-8zM541 380h8v1h-8zM533 381h8v1h-8zM525 382h8v1h-8zM517 383h8v1h-8zM509 384h8v1h-8zM493 385h16v1h-16zM485 386h8v1h-8zM479 387h6v1h-6zM475 388h4v1h-4zM469 389h6v1h-6zM461 390h8v1h-8zM453 391h8v1h-8zM445 392h8v1h-8zM439 393h6v1h-6zM435 394h4v1h-4zM429 395h6v1h-6zM421 396h8v1h-8zM413 397h8v1h-8zM405 398h8v1h-8zM399 399h6v1h-6zM395 400h4v1h-4zM389 401h6v1h-6zM381 402h8v1h-8zM373 403h8v1h-8zM365 404h8v1h-8zM357 405h8v1h-8zM349 406h8v1h-8zM335 407h14v1h-14zM331 408h4v1h-4zM325 409h6v1h-6zM317 410h8v1h-8zM309 411h8v1h-8zM301 412h8v1h-8zM285 413h16v1h-16zM277 414h8v1h-8zM269 415h8v1h-8zM261 416h8v1h-8zM253 417h8v1h-8zM245 418h8v1h-8zM237 419h8v1h-8zM229 420h8v1h-8zM221 421h8v1h-8zM213 422h8v1h-8zM205 423h8v1h-8zM197 424h8v1h-8zM189 425h8v1h-8zM181 426h8v1h-8zM173 427h8v1h-8zM165 428h8v1h-8zM157 429h8v1h-8zM149 430h8v1h-8zM141 431h8v1h-8zM133 432h8v1h-8zM125 433h8v1h-8zM119 434h6v1h-6zM115 435h4v1h-4zM109 436h6v1h-6zM101 437h8v1h-8zM93 438h8v1h-8zM77 439h16v1h-16zM69 440h8v1h-8zM61 441h8v1h-8zM53 442h8v1h-8zM45 443h8v1h-8zM37 444h8v1h-8zM21 445h16v1h-16zM13 446h8v1h-8zM9 447h4v1h-4z" fill="#ff0000"/>
<path d="M1661 72h5v1h-5zM1653 73h8v1h-8zM1645 74h8v1h-8zM1639 75h6v1h-6zM1635 76h4v1h-4zM1629 77h6v1h-6zM1621 78h8v1h-8zM1615 79h6v1h-6zM1611 80h4v1h-4zM1607 81h4v1h-4zM1603 82h4v1h-4zM1600 83h3v1h-3zM1597 84h3v1h-3zM1595 85h2v1h-2zM1591 86h4v1h-4zM1587 87h4v1h-4zM1584 88h3v1h-3zM1581 89h3v1h-3zM1579 90h2v1h-2zM1576 91h3v1h-3zM1574 92h2v1h-2zM1572 93h2v1h-2zM1570 94h2v1h-2zM1568 95h2v1h-2zM1565 96h3v1h-3zM1563 97h2v1h-2zM1560 98h3v1h-3zM1557 99h3v1h-3zM1555 100h2v1h-2zM1552 101h3v1h-3zM1549 102h3v1h-3zM1547 103h2v1h-2zM1544 104h3v1h-3zM1541 105h3v1h-3zM1539 106h2v1h-2zM1535 107h4v1h-4zM1531 108h4v1h-4zM1527 109h4v1h-4zM1523 110h4v1h-4zM1520 111h3v1h-3zM1517 112h3v1h-3zM1515 113h2v1h-2zM1512 114h3v1h-3zM1509 115h3v1h-3zM1507 116h2v1h-2zM1504 117h3v1h-3zM1502 118h2v1h-2zM1500 119h2v1h-2zM1498 120h2v1h-2zM1495 121h3v1h-3zM1491 122h4v1h-4zM1488 123h3v1h-3zM1485 124h3v1h-3zM1483 125h2v1h-2zM1479 126h4v1h-4zM1475 127h4v1h-4zM1472 128h3v1h-3zM1469 129h3v1h-3zM1467 130h2v1h-2zM1463 131h4v1h-4zM1459 132h4v1h-4zM1453 133h6v1h-6zM1437 134h16v1h-16zM1429 135h8v1h-8zM1405 136h24v1h-24zM1397 137h8v1h-8zM1389 138h8v1h-8zM1383 139h6v1h-6zM1379 140h4v1h-4zM1373 141h6v1h-6zM1367 142h6v1h-6zM1363 143h4v1h-4zM1360 144h3v1h-3zM1358 145h2v1h-2zM1356 146h2v1h-2zM1354 147h2v1h-2zM1352 148h2v1h-2zM1349 149h3v1h-3zM1347 150h2v1h-2zM1344 151h3v1h-3zM1342 152h2v1h-2zM1340 153h2v1h-2zM1338 154h2v1h-2zM1336 155h2v1h-2zM1333 156h3v1h-3zM1331 157h2v1h-2zM1329 158h2v1h-2zM1327 159h2v1h-2zM1325 160h2v1h-2zM1324 161h1v1h-1zM1322 162h2v1h-2zM1320 163h2v1h-2zM1317 164h3v1h-3zM1315 165h2v1h-2zM1311 166h4v1h-4zM1307 167h4v1h-4zM1301 168h6v1h-6zM1295 169h6v1h-6zM1291 170h4v1h-4zM1288 171h3v1h-3zM1285 172h3v1h-3zM1283 173h2v1h-2zM1280 174h3v1h-3zM1277 175h3v1h-3zM1275 176h2v1h-2zM1272 177h3v1h-3zM1269 178h3v1h-3zM1267 179h2v1h-2zM1264 180h3v1h-3zM1262 181h2v1h-2zM1260 182h2v1h-2zM1258 183h2v1h-2zM1256 184h2v1h-2zM1254 185h2v1h-2zM1252 186h2v1h-2zM1250 187h2v1h-2zM1248 188h2v1h-2zM1246 189h2v1h-2zM1244 190h2v1h-2zM1242 191h2v1h-2zM1240 192h2v1h-2zM1238 193h2v1h-2zM1236 194h2v1h-2zM1234 195h2v1h-2zM1232 196h2v1h-2zM1229 197h3v1h-3zM1227 198h2v1h-2zM1224 199h3v1h-3zM1221 200h3v1h-3zM1219 201h2v1h-2zM877 202h8v1h-8zM1213 202h6v1h-6zM869 203h8v1h-8zM885 203h40v1h-40zM1125 203h24v1h-24zM1207 203h6v1h-6zM861 204h8v1h-8zM925 204h8v1h-8zM1117 204h8v1h-8zM1149 204h6v1h-6zM1203 204h4v1h-4zM853 205h8v1h-8zM933 205h8v1h-8zM957 205h8v1h-8zM1007 205h6v1h-6zM1111 205h6v1h-6zM1155 205h2v1h-2zM1200 205h3v1h-3zM845 206h8v1h-8zM941 206h16v1h-16zM965 206h24v1h-24zM1003 206h4v1h-4zM1013 206h8v1h-8zM1107 206h4v1h-4zM1157 206h3v1h-3zM1198 206h2v1h-2zM837 207h8v1h-8zM989 207h14v1h-14zM1021 207h6v1h-6zM1101 207h6v1h-6zM1160 207h5v1h-5zM1196 207h2v1h-2zM829 208h8v1h-8zM1027 208h4v1h-4zM1053 208h32v1h-32zM1093 208h8v1h-8zM1165 208h6v1h-6zM1194 208h2v1h-2zM823 209h6v1h-6zM1031 209h22v1h-22zM1085 209h8v1h-8zM1171 209h4v1h-4zM1189 209h5v1h-5zM819 210h4v1h-4zM1175 210h14v1h-14zM815 211h4v1h-4zM811 212h4v1h-4zM805 213h6v1h-6zM799 214h6v1h-6zM795 215h4v1h-4zM789 216h6v1h-6zM783 217h6v1h-6zM779 218h4v1h-4zM775 219h4v1h-4zM771 220h4v1h-4zM765 221h6v1h-6zM757 222h8v1h-8zM751 223h6v1h-6zM747 224h4v1h-4zM743 225h4v1h-4zM739 226h4v1h-4zM735 227h4v1h-4zM731 228h4v1h-4zM727 229h4v1h-4zM723 230h4v1h-4zM720 231h3v1h-3zM717 232h3v1h-3zM715 233h2v1h-2zM711 234h4v1h-4zM707 235h4v1h-4zM703 236h4v1h-4zM699 237h4v1h-4zM696 238h3v1h-3zM693 239h3v1h-3zM691 240h2v1h-2zM688 241h3v1h-3zM685 242h3v1h-3zM683 243h2v1h-2zM680 244h3v1h-3zM677 245h3v1h-3zM675 246h2v1h-2zM671 247h4v1h-4zM667 248h4v1h-4zM664 249h3v1h-3zM661 250h3v1h-3zM659 251h2v1h-2zM655 252h4v1h-4zM651 253h4v1h-4zM648 254h3v1h-3zM645 255h3v1h-3zM643 256h2v1h-2zM639 257h4v1h-4zM635 258h4v1h-4zM631 259h4v1h-4zM627 260h4v1h-4zM623 261h4v1h-4zM619 262h4v1h-4zM613 263h6v1h-6zM605 264h8v1h-8zM599 265h6v1h-6zM595 266h4v1h-4zM591 267h4v1h-4zM587 268h4v1h-4zM583 269h4v1h-4zM579 270h4v1h-4zM575 271h4v1h-4zM571 272h4v1h-4zM567 273h4v1h-4zM563 274h4v1h-4zM559 275h4v1h-4zM555 276h4v1h-4zM552 277h3v1h-3zM549 278h3v1h-3zM547 279h2v1h-2zM541 280h6v1h-6zM533 281h8v1h-8zM525 282h8v1h-8zM517 283h8v1h-8zM511 284h6v1h-6zM507 285h4v1h-4zM501 286h6v1h-6zM496 287h5v1h-5zM494 288h2v1h-2zM492 289h2v1h-2zM490 290h2v1h-2zM488 291h2v1h-2zM485 292h3v1h-3zM483 293h2v1h-2zM480 294h3v1h-3zM478 295h2v1h-2zM476 296h2v1h-2zM474 297h2v1h-2zM472 298h2v1h-2zM469 299h3v1h-3zM467 300h2v1h-2zM464 301h3v1h-3zM462 302h2v1h-2zM460 303h2v1h-2zM458 304h2v1h-2zM456 305h2v1h-2zM454 306h2v1h-2zM452 307h2v1h-2zM450 308h2v1h-2zM448 309h2v1h-2zM446 310h2v1h-2zM444 311h2v1h-2zM442 312h2v1h-2zM441 313h1v1h-1zM439 314h2v1h-2zM437 315h2v1h-2zM436 316h1v1h-1zM434 317h2v1h-2zM432 318h2v1h-2zM429 319h3v1h-3zM427 320h2v1h-2zM424 321h3v1h-3zM422 322h2v1h-2zM420 323h2v1h-2zM418 324h2v1h-2zM416 325h2v1h-2zM413 326h3v1h-3zM411 327h2v1h-2zM408 328h3v1h-3zM405 329h3v1h-3zM403 330h2v1h-2zM400 331h3v1h-3zM397 332h3v1h-3zM395 333h2v1h-2zM391 334h4v1h-4zM387 335h4v1h-4zM383 336h4v1h-4zM379 337h4v1h-4zM376 338h3v1h-3zM374 339h2v1h-2zM372 340h2v1h-2zM370 341h2v1h-2zM368 342h2v1h-2zM365 343h3v1h-3zM363 344h2v1h-2zM359 345h4v1h-4zM355 346h4v1h-4zM352 347h3v1h-3zM349 348h3v1h-3zM347 349h2v1h-2zM341 350h6v1h-6zM335 351h6v1h-6zM331 352h4v1h-4zM295 353h36v1h-36zM291 354h4v1h-4zM279 355h12v1h-12zM275 356h4v1h-4zM269 357h6v1h-6zM261 358h8v1h-8zM255 359h6v1h-6zM251 360h4v1h-4zM245 361h6v1h-6zM239 362h6v1h-6zM235 363h4v1h-4zM229 364h6v1h-6zM223 365h6v1h-6zM219 366h4v1h-4zM213 367h6v1h-6zM9 368h2v1h-2zM205 368h8v1h-8zM11 369h2v1h-2zM200 369h5v1h-5zM13 370h3v1h-3zM197 370h3v1h-3zM16 371h2v1h-2zM195 371h2v1h-2zM18 372h2v1h-2zM193 372h2v1h-2zM20 373h1v1h-1zM191 373h2v1h-2zM21 374h2v1h-2zM189 374h2v1h-2zM23 375h2v1h-2zM188 375h1v1h-1zM25 376h1v1h-1zM186 376h2v1h-2zM26 377h2v1h-2zM184 377h2v1h-2zM28 378h1v1h-1zM181 378h3v1h-3zM29 379h2v1h-2zM179 379h2v1h-2zM31 380h2v1h-2zM176 380h3v1h-3zM33 381h2v1h-2zM174 381h2v1h-2zM35 382h4v1h-4zM172 382h2v1h-2zM39 383h4v1h-4zM170 383h2v1h-2zM43 384h4v1h-4zM168 384h2v1h-2zM47 385h4v1h-4zM166 385h2v1h-2zM51 386h2v1h-2zM164 386h2v1h-2zM53 387h3v1h-3zM162 387h2v1h-2zM56 388h3v1h-3zM160 388h2v1h-2zM59 389h4v1h-4zM158 389h2v1h-2zM63 390h4v1h-4zM156 390h2v1h-2zM67 391h4v1h-4zM154 391h2v1h-2zM71 392h4v1h-4zM152 392h2v1h-2zM75 393h4v1h-4zM150 393h2v1h-2zM79 394h4v1h-4zM148 394h2v1h-2zM83 395h2v1h-2zM146 395h2v1h-2zM85 396h3v1h-3zM144 396h2v1h-2zM88 397h3v1h-3zM141 397h3v1h-3zM91 398h2v1h-2zM139 398h2v1h-2zM93 399h3v1h-3zM135 399h4v1h-4zM96 400h3v1h-3zM131 400h4v1h-4zM99 401h4v1h-4zM125 401h6v1h-6zM103 402h22v1h-22z" fill="#ffa500"/>
<path d="M1663 107h3v1h-3zM1659 108h4v1h-4zM1653 109h6v1h-6zM1647 110h6v1h-6zM1643 111h4v1h-4zM1639 112h4v1h-4zM1635 113h4v1h-4zM1631 114h4v1h-4zM1627 115h4v1h-4zM1623 116h4v1h-4zM1619 117h4v1h-4zM1615 118h4v1h-4zM1611 119h4v1h-4zM1608 120h3v1h-3zM1605 121h3v1h-3zM1603 122h2v1h-2zM1600 123h3v1h-3zM1597 124h3v1h-3zM1595 125h2v1h-2zM1592 126h3v1h-3zM1589 127h3v1h-3zM1587 128h2v1h-2zM1583 129h4v1h-4zM1579 130h4v1h-4zM1575 131h4v1h-4zM1571 132h4v1h-4zM1567 133h4v1h-4zM1563 134h4v1h-4zM1560 135h3v1h-3zM1557 136h3v1h-3zM1555 137h2v1h-2zM1551 138h4v1h-4zM1547 139h4v1h-4zM1543 140h4v1h-4zM1539 141h4v1h-4zM1536 142h3v1h-3zM1533 143h3v1h-3zM1531 144h2v1h-2zM1528 145h3v1h-3zM1525 146h3v1h-3zM1523 147h2v1h-2zM1520 148h3v1h-3zM1517 149h3v1h-3zM1515 150h2v1h-2zM1511 151h4v1h-4zM1507 152h4v1h-4zM1504 153h3v1h-3zM1501 154h3v1h-3zM1499 155h2v1h-2zM1495 156h4v1h-4zM1491 157h4v1h-4zM1487 158h4v1h-4zM1483 159h4v1h-4zM1479 160h4v1h-4zM1475 161h4v1h-4zM1471 162h4v1h-4zM1467 163h4v1h-4zM1463 164h4v1h-4zM1459 165h4v1h-4zM1455 166h4v1h-4zM1451 167h4v1h-4zM1445 168h6v1h-6zM1437 169h8v1h-8zM1429 170h8v1h-8zM1421 171h8v1h-8zM1415 172h6v1h-6zM1411 173h4v1h-4zM1405 174h6v1h-6zM1397 175h8v1h-8zM1389 176h8v1h-8zM1383 177h6v1h-6zM1379 178h4v1h-4zM1375 179h4v1h-4zM1371 180h4v1h-4zM1367 181h4v1h-4zM1363 182h4v1h-4zM1359 183h4v1h-4zM1355 184h4v1h-4zM1351 185h4v1h-4zM1347 186h4v1h-4zM1341 187h6v1h-6zM1333 188h8v1h-8zM1327 189h6v1h-6zM1323 190h4v1h-4zM1317 191h6v1h-6zM1309 192h8v1h-8zM1293 193h16v1h-16zM1285 194h8v1h-8zM1277 195h8v1h-8zM1269 196h8v1h-8zM1261 197h8v1h-8zM1253 198h8v1h-8zM1245 199h8v1h-8zM1237 200h8v1h-8zM1229 201h8v1h-8zM1221 202h8v1h-8zM1213 203h8v1h-8zM1205 204h8v1h-8zM1189 205h16v1h-16zM1133 206h56v1h-56zM1117 207h16v1h-16zM1061 208h16v1h-16zM1101 208h16v1h-16zM1045 209h16v1h-16zM1077 209h24v1h-24zM1037 210h8v1h-8zM1021 211h16v1h-16zM1013 212h8v1h-8zM1005 213h8v1h-8zM999 214h6v1h-6zM995 215h4v1h-4zM989 216h6v1h-6zM983 217h6v1h-6zM979 218h4v1h-4zM973 219h6v1h-6zM965 220h8v1h-8zM959 221h6v1h-6zM955 222h4v1h-4zM949 223h6v1h-6zM941 224h8v1h-8zM925 225h16v1h-16zM917 226h8v1h-8zM909 227h8v1h-8zM901 228h8v1h-8zM893 229h8v1h-8zM879 230h14v1h-14zM875 231h4v1h-4zM869 232h6v1h-6zM863 233h6v1h-6zM859 234h4v1h-4zM855 235h4v1h-4zM851 236h4v1h-4zM845 237h6v1h-6zM840 238h5v1h-5zM837 239h3v1h-3zM835 240h2v1h-2zM831 241h4v1h-4zM827 242h4v1h-4zM823 243h4v1h-4zM819 244h4v1h-4zM815 245h4v1h-4zM811 246h4v1h-4zM807 247h4v1h-4zM803 248h4v1h-4zM799 249h4v1h-4zM795 250h4v1h-4zM789 251h6v1h-6zM783 252h6v1h-6zM779 253h4v1h-4zM775 254h4v1h-4zM771 255h4v1h-4zM767 256h4v1h-4zM763 257h4v1h-4zM760 258h3v1h-3zM757 259h3v1h-3zM755 260h2v1h-2zM751 261h4v1h-4zM747 262h4v1h-4zM743 263h4v1h-4zM739 264h4v1h-4zM736 265h3v1h-3zM733 266h3v1h-3zM731 267h2v1h-2zM727 268h4v1h-4zM723 269h4v1h-4zM720 270h3v1h-3zM717 271h3v1h-3zM715 272h2v1h-2zM711 273h4v1h-4zM707 274h4v1h-4zM704 275h3v1h-3zM701 276h3v1h-3zM699 277h2v1h-2zM696 278h3v1h-3zM693 279h3v1h-3zM691 280h2v1h-2zM687 281h4v1h-4zM683 282h4v1h-4zM680 283h3v1h-3zM677 284h3v1h-3zM675 285h2v1h-2zM672 286h3v1h-3zM669 287h3v1h-3zM667 288h2v1h-2zM663 289h4v1h-4zM659 290h4v1h-4zM656 291h3v1h-3zM653 292h3v1h-3zM651 293h2v1h-2zM647 294h4v1h-4zM643 295h4v1h-4zM640 296h3v1h-3zM637 297h3v1h-3zM635 298h2v1h-2zM631 299h4v1h-4zM627 300h4v1h-4zM623 301h4v1h-4zM619 302h4v1h-4zM615 303h4v1h-4zM611 304h4v1h-4zM607 305h4v1h-4zM603 306h4v1h-4zM599 307h4v1h-4zM595 308h4v1h-4zM589 309h6v1h-6zM583 310h6v1h-6zM579 311h4v1h-4zM573 312h6v1h-6zM567 313h6v1h-6zM563 314h4v1h-4zM560 315h3v1h-3zM557 316h3v1h-3zM555 317h2v1h-2zM551 318h4v1h-4zM547 319h4v1h-4zM543 320h4v1h-4zM539 321h4v1h-4zM535 322h4v1h-4zM531 323h4v1h-4zM528 324h3v1h-3zM525 325h3v1h-3zM523 326h2v1h-2zM517 327h6v1h-6zM511 328h6v1h-6zM507 329h4v1h-4zM504 330h3v1h-3zM501 331h3v1h-3zM499 332h2v1h-2zM495 333h4v1h-4zM491 334h4v1h-4zM487 335h4v1h-4zM483 336h4v1h-4zM479 337h4v1h-4zM475 338h4v1h-4zM472 339h3v1h-3zM469 340h3v1h-3zM467 341h2v1h-2zM464 342h3v1h-3zM461 343h3v1h-3zM459 344h2v1h-2zM456 345h3v1h-3zM453 346h3v1h-3zM451 347h2v1h-2zM448 348h3v1h-3zM445 349h3v1h-3zM443 350h2v1h-2zM440 351h3v1h-3zM437 352h3v1h-3zM435 353h2v1h-2zM432 354h3v1h-3zM429 355h3v1h-3zM427 356h2v1h-2zM423 357h4v1h-4zM419 358h4v1h-4zM415 359h4v1h-4zM411 360h4v1h-4zM405 361h6v1h-6zM399 362h6v1h-6zM395 363h4v1h-4zM389 364h6v1h-6zM381 365h8v1h-8zM373 366h8v1h-8zM189 367h16v1h-16zM365 367h8v1h-8zM165 368h24v1h-24zM205 368h24v1h-24zM357 368h8v1h-8zM141 369h24v1h-24zM229 369h32v1h-32zM349 369h8v1h-8zM133 370h8v1h-8zM261 370h24v1h-24zM333 370h16v1h-16zM85 371h48v1h-48zM285 371h48v1h-48zM53 372h32v1h-32zM9 373h44v1h-44z" fill="#ff00ff"/>
<rect x="9" y="127" width="1675" height="2" fill="#00ff7f"/>
<rect x="9" y="212" width="1675" height="2" fill="#4169e1"/>
<rect x="9" y="259" width="1675" height="2" fill="#4169e1"/>
</g>
<path d="M12 45 L19 45 L15.5 49 Z" fill="#000"/>
<text x="24" y="50.3" font-family='"Liberation Sans", sans-serif' font-size="10" textLength="45" lengthAdjust="spacingAndGlyphs" fill="#000" stroke="#000" stroke-width="0.2">SP500-,H4</text>
<text x="75.3" y="50.3" font-family='"Liberation Sans", sans-serif' font-size="10" textLength="37.5" lengthAdjust="spacingAndGlyphs" fill="#000" stroke="#000" stroke-width="0.2">3320.000</text>
<text x="116.3" y="50.3" font-family='"Liberation Sans", sans-serif' font-size="10" textLength="37.5" lengthAdjust="spacingAndGlyphs" fill="#000" stroke="#000" stroke-width="0.2">3321.750</text>
<text x="157.3" y="50.3" font-family='"Liberation Sans", sans-serif' font-size="10" textLength="37.5" lengthAdjust="spacingAndGlyphs" fill="#000" stroke="#000" stroke-width="0.2">3319.000</text>
<text x="198" y="50.3" font-family='"Liberation Sans", sans-serif' font-size="10" textLength="37.5" lengthAdjust="spacingAndGlyphs" fill="#000" stroke="#000" stroke-width="0.2">3319.250</text>
<rect x="1685" y="54" width="3" height="1" fill="#000"/>
<text x="1690" y="58.2" font-family='"Liberation Sans", sans-serif' font-size="10" textLength="37.5" lengthAdjust="spacingAndGlyphs" fill="#000" stroke="#000" stroke-width="0.2">3332.570</text>
<rect x="1685" y="87" width="3" height="1" fill="#000"/>
<text x="1690" y="91.2" font-family='"Liberation Sans", sans-serif' font-size="10" textLength="37.5" lengthAdjust="spacingAndGlyphs" fill="#000" stroke="#000" stroke-width="0.2">3311.450</text>
<rect x="1685" y="120" width="3" height="1" fill="#000"/>
<text x="1690" y="124.2" font-family='"Liberation Sans", sans-serif' font-size="10" textLength="37.5" lengthAdjust="spacingAndGlyphs" fill="#000" stroke="#000" stroke-width="0.2">3290.330</text>
<rect x="1685" y="153" width="3" height="1" fill="#000"/>
<text x="1690" y="157.2" font-family='"Liberation Sans", sans-serif' font-size="10" textLength="37.5" lengthAdjust="spacingAndGlyphs" fill="#000" stroke="#000" stroke-width="0.2">3268.570</text>
<rect x="1685" y="186" width="3" height="1" fill="#000"/>
<text x="1690" y="190.2" font-family='"Liberation Sans", sans-serif' font-size="10" textLength="37.5" lengthAdjust="spacingAndGlyphs" fill="#000" stroke="#000" stroke-width="0.2">3247.450</text>
<rect x="1685" y="219" width="3" height="1" fill="#000"/>
<text x="1690" y="223.2" font-family='"Liberation Sans", sans-serif' font-size="10" textLength="37.5" lengthAdjust="spacingAndGlyphs" fill="#000" stroke="#000" stroke-width="0.2">3226.330</text>
<rect x="1685" y="252" width="3" height="1" fill="#000"/>
<text x="1690" y="256.2" font-family='"Liberation Sans", sans-serif' font-size="10" textLength="37.5" lengthAdjust="spacingAndGlyphs" fill="#000" stroke="#000" stroke-width="0.2">3204.570</text>
<rect x="1685" y="285" width="3" height="1" fill="#000"/>
<text x="1690" y="289.2" font-family='"Liberation Sans", sans-serif' font-size="10" textLength="37.5" lengthAdjust="spacingAndGlyphs" fill="#000" stroke="#000" stroke-width="0.2">3183.450</text>
<rect x="1685" y="318" width="3" height="1" fill="#000"/>
<text x="1690" y="322.2" font-family='"Liberation Sans", sans-serif' font-size="10" textLength="37.5" lengthAdjust="spacingAndGlyphs" fill="#000" stroke="#000" stroke-width="0.2">3162.330</text>
<rect x="1685" y="351" width="3" height="1" fill="#000"/>
<text x="1690" y="355.2" font-family='"Liberation Sans", sans-serif' font-size="10" textLength="37.5" lengthAdjust="spacingAndGlyphs" fill="#000" stroke="#000" stroke-width="0.2">3140.570</text>
<rect x="1685" y="384" width="3" height="1" fill="#000"/>
<text x="1690" y="388.2" font-family='"Liberation Sans", sans-serif' font-size="10" textLength="37.5" lengthAdjust="spacingAndGlyphs" fill="#000" stroke="#000" stroke-width="0.2">3119.450</text>
<rect x="1685" y="417" width="3" height="1" fill="#000"/>
<text x="1690" y="421.2" font-family='"Liberation Sans", sans-serif' font-size="10" textLength="37.5" lengthAdjust="spacingAndGlyphs" fill="#000" stroke="#000" stroke-width="0.2">3098.330</text>
<rect x="1685" y="450" width="3" height="1" fill="#000"/>
<text x="1690" y="454.2" font-family='"Liberation Sans", sans-serif' font-size="10" textLength="37.5" lengthAdjust="spacingAndGlyphs" fill="#000" stroke="#000" stroke-width="0.2">3077.210</text>
<rect x="1686" y="70" width="46" height="11" fill="#000"/>
<text x="1690" y="78.7" font-family='"Liberation Sans", sans-serif' font-size="10" textLength="37.5" lengthAdjust="spacingAndGlyphs" fill="#fff" stroke="#fff" stroke-width="0.2">3319.250</text>
<rect x="1686" y="122" width="46" height="11" fill="#00ff7f"/>
<text x="1690" y="130.7" font-family='"Liberation Sans", sans-serif' font-size="10" textLength="37.5" lengthAdjust="spacingAndGlyphs" fill="#fff" stroke="#fff" stroke-width="0.2">3285.000</text>
<rect x="1686" y="207" width="46" height="11" fill="#4169e1"/>
<text x="1690" y="215.7" font-family='"Liberation Sans", sans-serif' font-size="10" textLength="37.5" lengthAdjust="spacingAndGlyphs" fill="#fff" stroke="#fff" stroke-width="0.2">3230.000</text>
<rect x="1686" y="254" width="46" height="11" fill="#4169e1"/>
<text x="1690" y="262.7" font-family='"Liberation Sans", sans-serif' font-size="10" textLength="37.5" lengthAdjust="spacingAndGlyphs" fill="#fff" stroke="#fff" stroke-width="0.2">3200.000</text>
<clipPath id="cmacd"><rect x="9" y="456" width="1675" height="212"/></clipPath>
<g clip-path="url(#cmacd)">
<rect x="9" y="559" width="1" height="87" fill="#c0c0c0"/>
<rect x="17" y="559" width="1" height="91" fill="#c0c0c0"/>
<rect x="25" y="559" width="1" height="99" fill="#c0c0c0"/>
<rect x="33" y="559" width="1" height="89" fill="#c0c0c0"/>
<rect x="41" y="559" width="1" height="77" fill="#c0c0c0"/>
<rect x="49" y="559" width="1" height="64" fill="#c0c0c0"/>
<rect x="57" y="559" width="1" height="59" fill="#c0c0c0"/>
<rect x="65" y="559" width="1" height="54" fill="#c0c0c0"/>
<rect x="73" y="559" width="1" height="44" fill="#c0c0c0"/>
<rect x="81" y="559" width="1" height="34" fill="#c0c0c0"/>
<rect x="89" y="559" width="1" height="32" fill="#c0c0c0"/>
<rect x="97" y="559" width="1" height="29" fill="#c0c0c0"/>
<rect x="105" y="559" width="1" height="22" fill="#c0c0c0"/>
<rect x="113" y="559" width="1" height="16" fill="#c0c0c0"/>
<rect x="121" y="559" width="1" height="10" fill="#c0c0c0"/>
<rect x="129" y="559" width="1" height="3" fill="#c0c0c0"/>
<rect x="137" y="546" width="1" height="14" fill="#c0c0c0"/>
<rect x="145" y="532" width="1" height="28" fill="#c0c0c0"/>
<rect x="153" y="523" width="1" height="37" fill="#c0c0c0"/>
<rect x="161" y="516" width="1" height="44" fill="#c0c0c0"/>
<rect x="169" y="513" width="1" height="47" fill="#c0c0c0"/>
<rect x="177" y="510" width="1" height="50" fill="#c0c0c0"/>
<rect x="185" y="510" width="1" height="50" fill="#c0c0c0"/>
<rect x="193" y="507" width="1" height="53" fill="#c0c0c0"/>
<rect x="201" y="509" width="1" height="51" fill="#c0c0c0"/>
<rect x="209" y="514" width="1" height="46" fill="#c0c0c0"/>
<rect x="217" y="518" width="1" height="42" fill="#c0c0c0"/>
<rect x="225" y="522" width="1" height="38" fill="#c0c0c0"/>
<rect x="233" y="532" width="1" height="28" fill="#c0c0c0"/>
<rect x="241" y="531" width="1" height="29" fill="#c0c0c0"/>
<rect x="249" y="533" width="1" height="27" fill="#c0c0c0"/>
<rect x="257" y="536" width="1" height="24" fill="#c0c0c0"/>
<rect x="265" y="539" width="1" height="21" fill="#c0c0c0"/>
<rect x="273" y="542" width="1" height="18" fill="#c0c0c0"/>
<rect x="281" y="542" width="1" height="18" fill="#c0c0c0"/>
<rect x="289" y="543" width="1" height="17" fill="#c0c0c0"/>
<rect x="297" y="540" width="1" height="20" fill="#c0c0c0"/>
<rect x="305" y="536" width="1" height="24" fill="#c0c0c0"/>
<rect x="313" y="533" width="1" height="27" fill="#c0c0c0"/>
<rect x="321" y="532" width="1" height="28" fill="#c0c0c0"/>
<rect x="329" y="531" width="1" height="29" fill="#c0c0c0"/>
<rect x="337" y="516" width="1" height="44" fill="#c0c0c0"/>
<rect x="345" y="509" width="1" height="51" fill="#c0c0c0"/>
<rect x="353" y="494" width="1" height="66" fill="#c0c0c0"/>
<rect x="361" y="484" width="1" height="76" fill="#c0c0c0"/>
<rect x="369" y="476" width="1" height="84" fill="#c0c0c0"/>
<rect x="377" y="471" width="1" height="89" fill="#c0c0c0"/>
<rect x="385" y="479" width="1" height="81" fill="#c0c0c0"/>
<rect x="393" y="481" width="1" height="79" fill="#c0c0c0"/>
<rect x="401" y="483" width="1" height="77" fill="#c0c0c0"/>
<rect x="409" y="484" width="1" height="76" fill="#c0c0c0"/>
<rect x="417" y="482" width="1" height="78" fill="#c0c0c0"/>
<rect x="425" y="481" width="1" height="79" fill="#c0c0c0"/>
<rect x="433" y="480" width="1" height="80" fill="#c0c0c0"/>
<rect x="441" y="473" width="1" height="87" fill="#c0c0c0"/>
<rect x="449" y="469" width="1" height="91" fill="#c0c0c0"/>
<rect x="457" y="469" width="1" height="91" fill="#c0c0c0"/>
<rect x="465" y="469" width="1" height="91" fill="#c0c0c0"/>
<rect x="473" y="467" width="1" height="93" fill="#c0c0c0"/>
<rect x="481" y="470" width="1" height="90" fill="#c0c0c0"/>
<rect x="489" y="472" width="1" height="88" fill="#c0c0c0"/>
<rect x="497" y="474" width="1" height="86" fill="#c0c0c0"/>
<rect x="505" y="479" width="1" height="81" fill="#c0c0c0"/>
<rect x="513" y="484" width="1" height="76" fill="#c0c0c0"/>
<rect x="521" y="490" width="1" height="70" fill="#c0c0c0"/>
<rect x="529" y="493" width="1" height="67" fill="#c0c0c0"/>
<rect x="537" y="494" width="1" height="66" fill="#c0c0c0"/>
<rect x="545" y="495" width="1" height="65" fill="#c0c0c0"/>
<rect x="553" y="496" width="1" height="64" fill="#c0c0c0"/>
<rect x="561" y="498" width="1" height="62" fill="#c0c0c0"/>
<rect x="569" y="500" width="1" height="60" fill="#c0c0c0"/>
<rect x="577" y="501" width="1" height="59" fill="#c0c0c0"/>
<rect x="585" y="501" width="1" height="59" fill="#c0c0c0"/>
<rect x="593" y="498" width="1" height="62" fill="#c0c0c0"/>
<rect x="601" y="495" width="1" height="65" fill="#c0c0c0"/>
<rect x="609" y="493" width="1" height="67" fill="#c0c0c0"/>
<rect x="617" y="493" width="1" height="67" fill="#c0c0c0"/>
<rect x="625" y="493" width="1" height="67" fill="#c0c0c0"/>
<rect x="633" y="487" width="1" height="73" fill="#c0c0c0"/>
<rect x="641" y="480" width="1" height="80" fill="#c0c0c0"/>
<rect x="649" y="478" width="1" height="82" fill="#c0c0c0"/>
<rect x="657" y="476" width="1" height="84" fill="#c0c0c0"/>
<rect x="665" y="474" width="1" height="86" fill="#c0c0c0"/>
<rect x="673" y="475" width="1" height="85" fill="#c0c0c0"/>
<rect x="681" y="475" width="1" height="85" fill="#c0c0c0"/>
<rect x="689" y="476" width="1" height="84" fill="#c0c0c0"/>
<rect x="697" y="479" width="1" height="81" fill="#c0c0c0"/>
<rect x="705" y="481" width="1" height="79" fill="#c0c0c0"/>
<rect x="713" y="485" width="1" height="75" fill="#c0c0c0"/>
<rect x="721" y="488" width="1" height="72" fill="#c0c0c0"/>
<rect x="729" y="491" width="1" height="69" fill="#c0c0c0"/>
<rect x="737" y="497" width="1" height="63" fill="#c0c0c0"/>
<rect x="745" y="501" width="1" height="59" fill="#c0c0c0"/>
<rect x="753" y="504" width="1" height="56" fill="#c0c0c0"/>
<rect x="761" y="506" width="1" height="54" fill="#c0c0c0"/>
<rect x="769" y="508" width="1" height="52" fill="#c0c0c0"/>
<rect x="777" y="510" width="1" height="50" fill="#c0c0c0"/>
<rect x="785" y="509" width="1" height="51" fill="#c0c0c0"/>
<rect x="793" y="509" width="1" height="51" fill="#c0c0c0"/>
<rect x="801" y="505" width="1" height="55" fill="#c0c0c0"/>
<rect x="809" y="499" width="1" height="61" fill="#c0c0c0"/>
<rect x="817" y="495" width="1" height="65" fill="#c0c0c0"/>
<rect x="825" y="491" width="1" height="69" fill="#c0c0c0"/>
<rect x="833" y="493" width="1" height="67" fill="#c0c0c0"/>
<rect x="841" y="495" width="1" height="65" fill="#c0c0c0"/>
<rect x="849" y="502" width="1" height="58" fill="#c0c0c0"/>
<rect x="857" y="506" width="1" height="54" fill="#c0c0c0"/>
<rect x="865" y="508" width="1" height="52" fill="#c0c0c0"/>
<rect x="873" y="512" width="1" height="48" fill="#c0c0c0"/>
<rect x="881" y="516" width="1" height="44" fill="#c0c0c0"/>
<rect x="889" y="529" width="1" height="31" fill="#c0c0c0"/>
<rect x="897" y="540" width="1" height="20" fill="#c0c0c0"/>
<rect x="905" y="548" width="1" height="12" fill="#c0c0c0"/>
<rect x="913" y="553" width="1" height="7" fill="#c0c0c0"/>
<rect x="921" y="558" width="1" height="2" fill="#c0c0c0"/>
<rect x="929" y="559" width="1" height="3" fill="#c0c0c0"/>
<rect x="937" y="559" width="1" height="11" fill="#c0c0c0"/>
<rect x="945" y="559" width="1" height="15" fill="#c0c0c0"/>
<rect x="953" y="559" width="1" height="7" fill="#c0c0c0"/>
<rect x="961" y="559" width="1" height="3" fill="#c0c0c0"/>
<rect x="969" y="556" width="1" height="4" fill="#c0c0c0"/>
<rect x="977" y="550" width="1" height="10" fill="#c0c0c0"/>
<rect x="985" y="543" width="1" height="17" fill="#c0c0c0"/>
<rect x="993" y="540" width="1" height="20" fill="#c0c0c0"/>
<rect x="1001" y="534" width="1" height="26" fill="#c0c0c0"/>
<rect x="1009" y="523" width="1" height="37" fill="#c0c0c0"/>
<rect x="1017" y="530" width="1" height="30" fill="#c0c0c0"/>
<rect x="1025" y="540" width="1" height="20" fill="#c0c0c0"/>
<rect x="1033" y="556" width="1" height="4" fill="#c0c0c0"/>
<rect x="1041" y="556" width="1" height="4" fill="#c0c0c0"/>
<rect x="1049" y="552" width="1" height="8" fill="#c0c0c0"/>
<rect x="1057" y="553" width="1" height="7" fill="#c0c0c0"/>
<rect x="1065" y="559" width="1" height="1" fill="#c0c0c0"/>
<rect x="1073" y="559" width="1" height="6" fill="#c0c0c0"/>
<rect x="1081" y="559" width="1" height="11" fill="#c0c0c0"/>
<rect x="1089" y="559" width="1" height="18" fill="#c0c0c0"/>
<rect x="1097" y="559" width="1" height="14" fill="#c0c0c0"/>
<rect x="1105" y="559" width="1" height="7" fill="#c0c0c0"/>
<rect x="1113" y="559" width="1" height="1" fill="#c0c0c0"/>
<rect x="1121" y="551" width="1" height="9" fill="#c0c0c0"/>
<rect x="1129" y="546" width="1" height="14" fill="#c0c0c0"/>
<rect x="1137" y="543" width="1" height="17" fill="#c0c0c0"/>
<rect x="1145" y="542" width="1" height="18" fill="#c0c0c0"/>
<rect x="1153" y="543" width="1" height="17" fill="#c0c0c0"/>
<rect x="1161" y="559" width="1" height="4" fill="#c0c0c0"/>
<rect x="1169" y="559" width="1" height="7" fill="#c0c0c0"/>
<rect x="1177" y="559" width="1" height="8" fill="#c0c0c0"/>
<rect x="1185" y="559" width="1" height="2" fill="#c0c0c0"/>
<rect x="1193" y="557" width="1" height="3" fill="#c0c0c0"/>
<rect x="1201" y="541" width="1" height="19" fill="#c0c0c0"/>
<rect x="1209" y="530" width="1" height="30" fill="#c0c0c0"/>
<rect x="1217" y="521" width="1" height="39" fill="#c0c0c0"/>
<rect x="1225" y="509" width="1" height="51" fill="#c0c0c0"/>
<rect x="1233" y="500" width="1" height="60" fill="#c0c0c0"/>
<rect x="1241" y="492" width="1" height="68" fill="#c0c0c0"/>
<rect x="1249" y="487" width="1" height="73" fill="#c0c0c0"/>
<rect x="1257" y="481" width="1" height="79" fill="#c0c0c0"/>
<rect x="1265" y="475" width="1" height="85" fill="#c0c0c0"/>
<rect x="1273" y="470" width="1" height="90" fill="#c0c0c0"/>
<rect x="1281" y="467" width="1" height="93" fill="#c0c0c0"/>
<rect x="1289" y="468" width="1" height="92" fill="#c0c0c0"/>
<rect x="1297" y="475" width="1" height="85" fill="#c0c0c0"/>
<rect x="1305" y="486" width="1" height="74" fill="#c0c0c0"/>
<rect x="1313" y="493" width="1" height="67" fill="#c0c0c0"/>
<rect x="1321" y="496" width="1" height="64" fill="#c0c0c0"/>
<rect x="1329" y="500" width="1" height="60" fill="#c0c0c0"/>
<rect x="1337" y="504" width="1" height="56" fill="#c0c0c0"/>
<rect x="1345" y="505" width="1" height="55" fill="#c0c0c0"/>
<rect x="1353" y="502" width="1" height="58" fill="#c0c0c0"/>
<rect x="1361" y="495" width="1" height="65" fill="#c0c0c0"/>
<rect x="1369" y="493" width="1" height="67" fill="#c0c0c0"/>
<rect x="1377" y="494" width="1" height="66" fill="#c0c0c0"/>
<rect x="1385" y="495" width="1" height="65" fill="#c0c0c0"/>
<rect x="1393" y="498" width="1" height="62" fill="#c0c0c0"/>
<rect x="1401" y="500" width="1" height="60" fill="#c0c0c0"/>
<rect x="1409" y="507" width="1" height="53" fill="#c0c0c0"/>
<rect x="1417" y="511" width="1" height="49" fill="#c0c0c0"/>
<rect x="1425" y="513" width="1" height="47" fill="#c0c0c0"/>
<rect x="1433" y="514" width="1" height="46" fill="#c0c0c0"/>
<rect x="1441" y="508" width="1" height="52" fill="#c0c0c0"/>
<rect x="1449" y="508" width="1" height="52" fill="#c0c0c0"/>
<rect x="1457" y="506" width="1" height="54" fill="#c0c0c0"/>
<rect x="1465" y="505" width="1" height="55" fill="#c0c0c0"/>
<rect x="1473" y="503" width="1" height="57" fill="#c0c0c0"/>
<rect x="1481" y="499" width="1" height="61" fill="#c0c0c0"/>
<rect x="1489" y="496" width="1" height="64" fill="#c0c0c0"/>
<rect x="1497" y="493" width="1" height="67" fill="#c0c0c0"/>
<rect x="1505" y="485" width="1" height="75" fill="#c0c0c0"/>
<rect x="1513" y="480" width="1" height="80" fill="#c0c0c0"/>
<rect x="1521" y="476" width="1" height="84" fill="#c0c0c0"/>
<rect x="1529" y="471" width="1" height="89" fill="#c0c0c0"/>
<rect x="1537" y="469" width="1" height="91" fill="#c0c0c0"/>
<rect x="1545" y="468" width="1" height="92" fill="#c0c0c0"/>
<rect x="1553" y="468" width="1" height="92" fill="#c0c0c0"/>
<rect x="1561" y="468" width="1" height="92" fill="#c0c0c0"/>
<rect x="1569" y="469" width="1" height="91" fill="#c0c0c0"/>
<rect x="1577" y="473" width="1" height="87" fill="#c0c0c0"/>
<rect x="1585" y="477" width="1" height="83" fill="#c0c0c0"/>
<rect x="1593" y="482" width="1" height="78" fill="#c0c0c0"/>
<rect x="1601" y="485" width="1" height="75" fill="#c0c0c0"/>
<rect x="1609" y="489" width="1" height="71" fill="#c0c0c0"/>
<rect x="1617" y="500" width="1" height="60" fill="#c0c0c0"/>
<rect x="1625" y="507" width="1" height="53" fill="#c0c0c0"/>
<rect x="1633" y="513" width="1" height="47" fill="#c0c0c0"/>
<rect x="1641" y="516" width="1" height="44" fill="#c0c0c0"/>
<rect x="1649" y="517" width="1" height="43" fill="#c0c0c0"/>
<rect x="1657" y="520" width="1" height="40" fill="#c0c0c0"/>
<rect x="1665" y="523" width="1" height="37" fill="#c0c0c0"/>
<path d="M1581 470h3v1h-3zM1587 470h2v1h-2zM487 471h3v1h-3zM493 471h3v1h-3zM499 471h3v1h-3zM505 471h3v1h-3zM1575 471h3v1h-3zM1589 471h1v1h-1zM1593 471h3v1h-3zM483 472h1v1h-1zM511 472h3v1h-3zM1569 472h3v1h-3zM1599 472h3v1h-3zM477 473h1v1h-1zM481 473h2v1h-2zM517 473h2v1h-2zM1565 473h1v1h-1zM471 474h1v1h-1zM475 474h2v1h-2zM519 474h1v1h-1zM1563 474h2v1h-2zM1605 474h3v1h-3zM469 475h2v1h-2zM523 475h2v1h-2zM463 476h3v1h-3zM525 476h1v1h-1zM703 476h3v1h-3zM1557 476h3v1h-3zM1611 476h2v1h-2zM453 477h1v1h-1zM457 477h3v1h-3zM529 477h2v1h-2zM697 477h3v1h-3zM709 477h3v1h-3zM715 477h2v1h-2zM1305 477h3v1h-3zM1311 477h3v1h-3zM1613 477h1v1h-1zM445 478h3v1h-3zM451 478h2v1h-2zM531 478h1v1h-1zM691 478h3v1h-3zM717 478h1v1h-1zM721 478h2v1h-2zM1299 478h3v1h-3zM1317 478h3v1h-3zM1552 478h2v1h-2zM1617 478h1v1h-1zM423 479h1v1h-1zM427 479h3v1h-3zM433 479h3v1h-3zM439 479h3v1h-3zM535 479h1v1h-1zM687 479h1v1h-1zM723 479h1v1h-1zM1323 479h3v1h-3zM1551 479h1v1h-1zM1618 479h2v1h-2zM421 480h2v1h-2zM536 480h2v1h-2zM685 480h2v1h-2zM727 480h3v1h-3zM1294 480h2v1h-2zM1329 480h1v1h-1zM1547 480h1v1h-1zM416 481h2v1h-2zM679 481h3v1h-3zM733 481h2v1h-2zM1293 481h1v1h-1zM1330 481h2v1h-2zM1545 481h2v1h-2zM415 482h1v1h-1zM541 482h3v1h-3zM675 482h1v1h-1zM735 482h1v1h-1zM1623 482h2v1h-2zM411 483h1v1h-1zM673 483h2v1h-2zM739 483h2v1h-2zM1289 483h1v1h-1zM1335 483h1v1h-1zM1540 483h2v1h-2zM1625 483h1v1h-1zM409 484h2v1h-2zM547 484h2v1h-2zM667 484h3v1h-3zM741 484h1v1h-1zM1287 484h2v1h-2zM1336 484h2v1h-2zM1539 484h1v1h-1zM405 485h1v1h-1zM549 485h1v1h-1zM663 485h1v1h-1zM745 485h2v1h-2zM403 486h2v1h-2zM553 486h2v1h-2zM661 486h2v1h-2zM747 486h1v1h-1zM1341 486h1v1h-1zM1534 486h2v1h-2zM1629 486h2v1h-2zM555 487h1v1h-1zM656 487h2v1h-2zM751 487h1v1h-1zM1282 487h2v1h-2zM1342 487h2v1h-2zM1533 487h1v1h-1zM1631 487h1v1h-1zM399 488h1v1h-1zM559 488h1v1h-1zM655 488h1v1h-1zM752 488h2v1h-2zM1281 488h1v1h-1zM398 489h1v1h-1zM560 489h2v1h-2zM651 489h1v1h-1zM1347 489h2v1h-2zM1528 489h2v1h-2zM1635 489h1v1h-1zM397 490h1v1h-1zM565 490h2v1h-2zM649 490h2v1h-2zM757 490h1v1h-1zM1349 490h1v1h-1zM1527 490h1v1h-1zM1636 490h1v1h-1zM567 491h1v1h-1zM645 491h1v1h-1zM758 491h2v1h-2zM1277 491h1v1h-1zM1353 491h1v1h-1zM1637 491h1v1h-1zM571 492h2v1h-2zM643 492h2v1h-2zM1276 492h1v1h-1zM1354 492h2v1h-2zM1522 492h2v1h-2zM393 493h1v1h-1zM573 493h1v1h-1zM639 493h1v1h-1zM763 493h2v1h-2zM1275 493h1v1h-1zM1521 493h1v1h-1zM1641 493h1v1h-1zM391 494h2v1h-2zM577 494h2v1h-2zM637 494h2v1h-2zM765 494h1v1h-1zM1359 494h1v1h-1zM1642 494h2v1h-2zM579 495h1v1h-1zM631 495h3v1h-3zM769 495h2v1h-2zM1360 495h2v1h-2zM1516 495h2v1h-2zM583 496h3v1h-3zM613 496h3v1h-3zM619 496h3v1h-3zM625 496h3v1h-3zM771 496h1v1h-1zM1365 496h2v1h-2zM1515 496h1v1h-1zM386 497h2v1h-2zM589 497h3v1h-3zM595 497h3v1h-3zM601 497h3v1h-3zM607 497h3v1h-3zM775 497h1v1h-1zM1271 497h1v1h-1zM1367 497h1v1h-1zM1371 497h3v1h-3zM1377 497h3v1h-3zM1647 497h2v1h-2zM385 498h1v1h-1zM776 498h2v1h-2zM1270 498h1v1h-1zM1383 498h3v1h-3zM1389 498h3v1h-3zM1395 498h3v1h-3zM1401 498h3v1h-3zM1407 498h3v1h-3zM1509 498h3v1h-3zM1649 498h1v1h-1zM847 499h3v1h-3zM853 499h3v1h-3zM859 499h3v1h-3zM865 499h3v1h-3zM871 499h3v1h-3zM1269 499h1v1h-1zM1413 499h3v1h-3zM1419 499h2v1h-2zM781 500h3v1h-3zM837 500h1v1h-1zM841 500h3v1h-3zM877 500h2v1h-2zM1421 500h1v1h-1zM1425 500h2v1h-2zM1504 500h2v1h-2zM381 501h1v1h-1zM831 501h1v1h-1zM835 501h2v1h-2zM879 501h1v1h-1zM1427 501h1v1h-1zM1503 501h1v1h-1zM1653 501h2v1h-2zM379 502h2v1h-2zM787 502h3v1h-3zM829 502h2v1h-2zM883 502h1v1h-1zM1431 502h3v1h-3zM1499 502h1v1h-1zM1655 502h1v1h-1zM793 503h2v1h-2zM823 503h3v1h-3zM884 503h2v1h-2zM1265 503h1v1h-1zM1437 503h2v1h-2zM1497 503h2v1h-2zM795 504h1v1h-1zM813 504h1v1h-1zM817 504h3v1h-3zM1264 504h1v1h-1zM1439 504h1v1h-1zM1443 504h2v1h-2zM1491 504h3v1h-3zM1659 504h1v1h-1zM799 505h3v1h-3zM805 505h3v1h-3zM811 505h2v1h-2zM889 505h1v1h-1zM1263 505h1v1h-1zM1445 505h1v1h-1zM1449 505h2v1h-2zM1487 505h1v1h-1zM1660 505h2v1h-2zM375 506h1v1h-1zM890 506h2v1h-2zM1451 506h1v1h-1zM1485 506h2v1h-2zM374 507h1v1h-1zM1455 507h3v1h-3zM1461 507h3v1h-3zM1467 507h2v1h-2zM1479 507h3v1h-3zM1665 507h1v1h-1zM373 508h1v1h-1zM1469 508h1v1h-1zM1473 508h3v1h-3zM895 509h2v1h-2zM1260 509h1v1h-1zM897 510h1v1h-1zM1259 510h1v1h-1zM1258 511h1v1h-1zM369 512h1v1h-1zM213 513h1v1h-1zM217 513h3v1h-3zM223 513h3v1h-3zM368 513h1v1h-1zM211 514h2v1h-2zM229 514h3v1h-3zM367 514h1v1h-1zM901 514h2v1h-2zM206 515h2v1h-2zM235 515h3v1h-3zM903 515h1v1h-1zM1254 515h1v1h-1zM205 516h1v1h-1zM241 516h2v1h-2zM1253 516h1v1h-1zM243 517h1v1h-1zM363 517h1v1h-1zM1253 517h1v1h-1zM201 518h1v1h-1zM247 518h1v1h-1zM362 518h1v1h-1zM199 519h2v1h-2zM248 519h2v1h-2zM361 519h1v1h-1zM907 519h2v1h-2zM909 520h1v1h-1zM253 521h3v1h-3zM1249 521h1v1h-1zM195 522h1v1h-1zM357 522h1v1h-1zM1248 522h1v1h-1zM194 523h1v1h-1zM259 523h2v1h-2zM355 523h2v1h-2zM913 523h1v1h-1zM1247 523h1v1h-1zM193 524h1v1h-1zM261 524h1v1h-1zM914 524h1v1h-1zM265 525h1v1h-1zM915 525h1v1h-1zM266 526h2v1h-2zM351 526h1v1h-1zM189 527h1v1h-1zM350 527h1v1h-1zM1244 527h1v1h-1zM188 528h1v1h-1zM271 528h1v1h-1zM349 528h1v1h-1zM919 528h2v1h-2zM1243 528h1v1h-1zM187 529h1v1h-1zM272 529h2v1h-2zM921 529h1v1h-1zM1242 529h1v1h-1zM277 531h3v1h-3zM344 531h2v1h-2zM343 532h1v1h-1zM925 532h1v1h-1zM1239 532h1v1h-1zM183 533h1v1h-1zM283 533h2v1h-2zM339 533h1v1h-1zM926 533h1v1h-1zM1238 533h1v1h-1zM181 534h2v1h-2zM285 534h1v1h-1zM337 534h2v1h-2zM927 534h1v1h-1zM1237 534h1v1h-1zM289 535h2v1h-2zM333 535h1v1h-1zM291 536h1v1h-1zM331 536h2v1h-2zM295 537h3v1h-3zM301 537h3v1h-3zM307 537h2v1h-2zM319 537h3v1h-3zM325 537h3v1h-3zM931 537h1v1h-1zM177 538h1v1h-1zM309 538h1v1h-1zM313 538h3v1h-3zM932 538h1v1h-1zM1233 538h1v1h-1zM176 539h1v1h-1zM933 539h1v1h-1zM1232 539h1v1h-1zM175 540h1v1h-1zM1231 540h1v1h-1zM1027 541h3v1h-3zM1033 541h3v1h-3zM1039 541h3v1h-3zM1045 541h3v1h-3zM1051 541h2v1h-2zM937 542h1v1h-1zM1021 542h3v1h-3zM1053 542h1v1h-1zM1057 542h2v1h-2zM938 543h1v1h-1zM1059 543h1v1h-1zM1227 543h1v1h-1zM171 544h1v1h-1zM939 544h1v1h-1zM1017 544h1v1h-1zM1063 544h3v1h-3zM1226 544h1v1h-1zM170 545h1v1h-1zM1015 545h2v1h-2zM1225 545h1v1h-1zM169 546h1v1h-1zM1069 546h1v1h-1zM943 547h1v1h-1zM1070 547h2v1h-2zM1220 547h2v1h-2zM944 548h1v1h-1zM1010 548h2v1h-2zM1219 548h1v1h-1zM945 549h1v1h-1zM1009 549h1v1h-1zM1075 549h1v1h-1zM1215 549h1v1h-1zM165 550h1v1h-1zM1076 550h1v1h-1zM1213 550h2v1h-2zM164 551h1v1h-1zM1005 551h1v1h-1zM1077 551h1v1h-1zM1207 551h3v1h-3zM163 552h1v1h-1zM949 552h1v1h-1zM1004 552h1v1h-1zM1165 552h3v1h-3zM1171 552h3v1h-3zM1177 552h3v1h-3zM1203 552h1v1h-1zM950 553h1v1h-1zM1003 553h1v1h-1zM1081 553h1v1h-1zM1159 553h3v1h-3zM1183 553h3v1h-3zM1189 553h3v1h-3zM1195 553h3v1h-3zM1201 553h2v1h-2zM951 554h1v1h-1zM1082 554h2v1h-2zM1155 554h1v1h-1zM997 555h3v1h-3zM1153 555h2v1h-2zM159 556h1v1h-1zM955 556h2v1h-2zM1149 556h1v1h-1zM158 557h1v1h-1zM957 557h1v1h-1zM991 557h3v1h-3zM1087 557h2v1h-2zM1147 557h2v1h-2zM157 558h1v1h-1zM961 558h2v1h-2zM987 558h1v1h-1zM1089 558h1v1h-1zM1143 558h1v1h-1zM963 559h1v1h-1zM981 559h1v1h-1zM985 559h2v1h-2zM1141 559h2v1h-2zM967 560h3v1h-3zM973 560h3v1h-3zM979 560h2v1h-2zM1093 560h1v1h-1zM1135 560h3v1h-3zM1094 561h2v1h-2zM1131 561h1v1h-1zM153 562h1v1h-1zM1099 562h2v1h-2zM1125 562h1v1h-1zM1129 562h2v1h-2zM152 563h1v1h-1zM1101 563h1v1h-1zM1105 563h3v1h-3zM1111 563h3v1h-3zM1117 563h3v1h-3zM1123 563h2v1h-2zM151 564h1v1h-1zM148 567h1v1h-1zM147 568h1v1h-1zM146 569h1v1h-1zM142 573h1v1h-1zM141 574h1v1h-1zM140 575h1v1h-1zM136 579h1v1h-1zM135 580h1v1h-1zM134 581h1v1h-1zM130 584h1v1h-1zM129 585h1v1h-1zM128 586h1v1h-1zM123 589h2v1h-2zM122 590h1v1h-1zM118 593h1v1h-1zM117 594h1v1h-1zM116 595h1v1h-1zM9 596h1v1h-1zM10 597h1v1h-1zM10 598h1v1h-1zM112 598h1v1h-1zM111 599h1v1h-1zM110 600h1v1h-1zM13 602h1v1h-1zM14 603h1v1h-1zM106 603h1v1h-1zM15 604h1v1h-1zM105 604h1v1h-1zM104 605h1v1h-1zM18 608h1v1h-1zM18 609h1v1h-1zM100 609h1v1h-1zM19 610h1v1h-1zM99 610h1v1h-1zM98 611h1v1h-1zM22 614h1v1h-1zM23 615h1v1h-1zM93 615h2v1h-2zM24 616h1v1h-1zM92 616h1v1h-1zM27 620h1v1h-1zM88 620h1v1h-1zM28 621h1v1h-1zM87 621h1v1h-1zM29 622h1v1h-1zM86 622h1v1h-1zM82 625h1v1h-1zM32 626h1v1h-1zM81 626h1v1h-1zM33 627h1v1h-1zM80 627h1v1h-1zM34 628h1v1h-1zM38 630h1v1h-1zM75 630h2v1h-2zM39 631h2v1h-2zM74 631h1v1h-1zM44 634h2v1h-2zM69 634h2v1h-2zM46 635h1v1h-1zM68 635h1v1h-1zM50 636h1v1h-1zM51 637h2v1h-2zM62 637h3v1h-3zM56 638h3v1h-3z" fill="#ff0000"/>
</g>
<text x="13.5" y="468" font-family='"Liberation Sans", sans-serif' font-size="10" textLength="127" lengthAdjust="spacingAndGlyphs" fill="#000" stroke="#000" stroke-width="0.2">MACD(12,26,9) 5.1367 7.2033</text>
<rect x="1685" y="456" width="3" height="1" fill="#000"/>
<rect x="1685" y="559" width="3" height="1" fill="#000"/>
<rect x="1685" y="667" width="3" height="1" fill="#000"/>
<text x="1688.5" y="466.5" font-family='"Liberation Sans", sans-serif' font-size="10" textLength="32.5" lengthAdjust="spacingAndGlyphs" fill="#000" stroke="#000" stroke-width="0.2">14.1763</text>
<text x="1688.5" y="563.3" font-family='"Liberation Sans", sans-serif' font-size="10" textLength="16.5" lengthAdjust="spacingAndGlyphs" fill="#000" stroke="#000" stroke-width="0.2">0.00</text>
<text x="1688" y="665.3" font-family='"Liberation Sans", sans-serif' font-size="10" textLength="36" lengthAdjust="spacingAndGlyphs" fill="#000" stroke="#000" stroke-width="0.2">-15.0202</text>
<clipPath id="crsi"><rect x="9" y="671" width="1675" height="104"/></clipPath>
<g clip-path="url(#crsi)">
<line x1="10" y1="702.5" x2="1684" y2="702.5" stroke="#c0c0c0" stroke-width="1" stroke-dasharray="3 3"/>
<line x1="10" y1="744.5" x2="1684" y2="744.5" stroke="#c0c0c0" stroke-width="1" stroke-dasharray="3 3"/>
<path d="M808 690h3v1h-3zM824 690h2v1h-2zM806 691h2v1h-2zM811 691h2v1h-2zM821 691h3v1h-3zM826 691h1v1h-1zM640 692h2v1h-2zM804 692h2v1h-2zM813 692h3v1h-3zM819 692h2v1h-2zM826 692h1v1h-1zM637 693h3v1h-3zM642 693h2v1h-2zM802 693h2v1h-2zM816 693h3v1h-3zM827 693h1v1h-1zM635 694h2v1h-2zM644 694h1v1h-1zM801 694h1v1h-1zM827 694h1v1h-1zM633 695h2v1h-2zM645 695h2v1h-2zM679 695h6v1h-6zM799 695h2v1h-2zM828 695h1v1h-1zM631 696h2v1h-2zM647 696h2v1h-2zM653 696h16v1h-16zM675 696h4v1h-4zM685 696h6v1h-6zM798 696h1v1h-1zM828 696h1v1h-1zM1527 696h4v1h-4zM599 697h4v1h-4zM629 697h2v1h-2zM649 697h4v1h-4zM669 697h6v1h-6zM691 697h2v1h-2zM797 697h1v1h-1zM829 697h1v1h-1zM1523 697h4v1h-4zM1531 697h2v1h-2zM1543 697h4v1h-4zM1559 697h4v1h-4zM595 698h4v1h-4zM603 698h2v1h-2zM628 698h1v1h-1zM693 698h3v1h-3zM785 698h2v1h-2zM795 698h2v1h-2zM829 698h1v1h-1zM1505 698h4v1h-4zM1517 698h6v1h-6zM1533 698h3v1h-3zM1539 698h4v1h-4zM1547 698h4v1h-4zM1555 698h4v1h-4zM1563 698h4v1h-4zM353 699h2v1h-2zM593 699h2v1h-2zM605 699h3v1h-3zM626 699h2v1h-2zM696 699h11v1h-11zM783 699h2v1h-2zM787 699h4v1h-4zM794 699h1v1h-1zM830 699h1v1h-1zM1503 699h2v1h-2zM1509 699h8v1h-8zM1536 699h3v1h-3zM1551 699h4v1h-4zM1567 699h3v1h-3zM337 700h1v1h-1zM352 700h1v1h-1zM355 700h4v1h-4zM365 700h8v1h-8zM591 700h2v1h-2zM608 700h5v1h-5zM621 700h5v1h-5zM707 700h4v1h-4zM717 700h13v1h-13zM781 700h2v1h-2zM791 700h3v1h-3zM830 700h1v1h-1zM1501 700h2v1h-2zM1570 700h1v1h-1zM336 701h1v1h-1zM338 701h1v1h-1zM351 701h1v1h-1zM359 701h6v1h-6zM373 701h5v1h-5zM441 701h2v1h-2zM590 701h1v1h-1zM613 701h8v1h-8zM711 701h6v1h-6zM730 701h1v1h-1zM780 701h1v1h-1zM831 701h1v1h-1zM1500 701h1v1h-1zM1571 701h2v1h-2zM336 702h1v1h-1zM339 702h2v1h-2zM349 702h2v1h-2zM378 702h1v1h-1zM439 702h2v1h-2zM443 702h4v1h-4zM589 702h1v1h-1zM731 702h1v1h-1zM778 702h2v1h-2zM831 702h1v1h-1zM1498 702h2v1h-2zM1573 702h1v1h-1zM335 703h1v1h-1zM341 703h1v1h-1zM348 703h1v1h-1zM378 703h1v1h-1zM438 703h1v1h-1zM447 703h4v1h-4zM469 703h5v1h-5zM587 703h2v1h-2zM731 703h1v1h-1zM765 703h13v1h-13zM832 703h1v1h-1zM1009 703h1v1h-1zM1495 703h3v1h-3zM1574 703h1v1h-1zM1599 703h3v1h-3zM335 704h1v1h-1zM342 704h1v1h-1zM347 704h1v1h-1zM379 704h1v1h-1zM437 704h1v1h-1zM451 704h2v1h-2zM463 704h6v1h-6zM474 704h2v1h-2zM586 704h1v1h-1zM732 704h1v1h-1zM760 704h5v1h-5zM832 704h1v1h-1zM1008 704h2v1h-2zM1263 704h20v1h-20zM1361 704h1v1h-1zM1480 704h5v1h-5zM1491 704h4v1h-4zM1575 704h2v1h-2zM1595 704h4v1h-4zM1602 704h2v1h-2zM334 705h1v1h-1zM343 705h2v1h-2zM346 705h1v1h-1zM379 705h1v1h-1zM435 705h2v1h-2zM453 705h3v1h-3zM459 705h4v1h-4zM476 705h1v1h-1zM581 705h5v1h-5zM733 705h1v1h-1zM757 705h3v1h-3zM833 705h9v1h-9zM1007 705h1v1h-1zM1010 705h1v1h-1zM1259 705h4v1h-4zM1283 705h2v1h-2zM1359 705h2v1h-2zM1362 705h2v1h-2zM1478 705h2v1h-2zM1485 705h6v1h-6zM1577 705h18v1h-18zM1604 705h2v1h-2zM334 706h1v1h-1zM345 706h1v1h-1zM380 706h1v1h-1zM434 706h1v1h-1zM456 706h3v1h-3zM477 706h2v1h-2zM493 706h5v1h-5zM551 706h4v1h-4zM573 706h8v1h-8zM734 706h1v1h-1zM755 706h2v1h-2zM842 706h1v1h-1zM1005 706h2v1h-2zM1010 706h1v1h-1zM1255 706h4v1h-4zM1285 706h3v1h-3zM1357 706h2v1h-2zM1364 706h1v1h-1zM1441 706h1v1h-1zM1476 706h2v1h-2zM1606 706h2v1h-2zM333 707h1v1h-1zM380 707h1v1h-1zM416 707h5v1h-5zM429 707h5v1h-5zM479 707h2v1h-2zM485 707h8v1h-8zM498 707h2v1h-2zM547 707h4v1h-4zM555 707h4v1h-4zM565 707h8v1h-8zM735 707h1v1h-1zM749 707h6v1h-6zM842 707h1v1h-1zM1004 707h1v1h-1zM1011 707h1v1h-1zM1251 707h4v1h-4zM1288 707h2v1h-2zM1356 707h1v1h-1zM1365 707h2v1h-2zM1440 707h1v1h-1zM1442 707h1v1h-1zM1474 707h2v1h-2zM1608 707h2v1h-2zM141 708h8v1h-8zM332 708h1v1h-1zM381 708h1v1h-1zM413 708h3v1h-3zM421 708h8v1h-8zM481 708h4v1h-4zM500 708h2v1h-2zM535 708h12v1h-12zM559 708h6v1h-6zM735 708h1v1h-1zM743 708h6v1h-6zM843 708h1v1h-1zM1003 708h1v1h-1zM1011 708h1v1h-1zM1237 708h14v1h-14zM1290 708h1v1h-1zM1354 708h2v1h-2zM1367 708h2v1h-2zM1439 708h1v1h-1zM1443 708h2v1h-2zM1471 708h3v1h-3zM1610 708h1v1h-1zM137 709h4v1h-4zM149 709h13v1h-13zM332 709h1v1h-1zM381 709h1v1h-1zM411 709h2v1h-2zM502 709h2v1h-2zM531 709h4v1h-4zM736 709h1v1h-1zM739 709h4v1h-4zM844 709h1v1h-1zM984 709h2v1h-2zM1002 709h1v1h-1zM1012 709h1v1h-1zM1224 709h13v1h-13zM1291 709h1v1h-1zM1352 709h2v1h-2zM1369 709h2v1h-2zM1437 709h2v1h-2zM1445 709h1v1h-1zM1456 709h5v1h-5zM1467 709h4v1h-4zM1610 709h1v1h-1zM136 710h1v1h-1zM162 710h2v1h-2zM192 710h2v1h-2zM331 710h1v1h-1zM382 710h1v1h-1zM407 710h4v1h-4zM504 710h5v1h-5zM528 710h3v1h-3zM737 710h2v1h-2zM845 710h1v1h-1zM864 710h2v1h-2zM981 710h3v1h-3zM986 710h2v1h-2zM1000 710h2v1h-2zM1012 710h1v1h-1zM1221 710h3v1h-3zM1292 710h1v1h-1zM1350 710h2v1h-2zM1371 710h2v1h-2zM1436 710h1v1h-1zM1446 710h1v1h-1zM1453 710h3v1h-3zM1461 710h6v1h-6zM1611 710h1v1h-1zM135 711h1v1h-1zM164 711h2v1h-2zM175 711h4v1h-4zM190 711h2v1h-2zM194 711h2v1h-2zM331 711h1v1h-1zM382 711h1v1h-1zM403 711h4v1h-4zM509 711h6v1h-6zM525 711h3v1h-3zM845 711h1v1h-1zM861 711h3v1h-3zM866 711h2v1h-2zM979 711h2v1h-2zM988 711h1v1h-1zM998 711h2v1h-2zM1012 711h1v1h-1zM1219 711h2v1h-2zM1293 711h1v1h-1zM1348 711h2v1h-2zM1373 711h3v1h-3zM1381 711h6v1h-6zM1435 711h1v1h-1zM1447 711h2v1h-2zM1451 711h2v1h-2zM1611 711h1v1h-1zM134 712h1v1h-1zM166 712h2v1h-2zM171 712h4v1h-4zM179 712h2v1h-2zM188 712h2v1h-2zM196 712h1v1h-1zM330 712h1v1h-1zM383 712h1v1h-1zM397 712h6v1h-6zM515 712h4v1h-4zM523 712h2v1h-2zM846 712h1v1h-1zM859 712h2v1h-2zM868 712h2v1h-2zM975 712h4v1h-4zM989 712h2v1h-2zM996 712h2v1h-2zM1013 712h1v1h-1zM1201 712h18v1h-18zM1294 712h1v1h-1zM1346 712h2v1h-2zM1376 712h5v1h-5zM1387 712h4v1h-4zM1434 712h1v1h-1zM1449 712h2v1h-2zM1612 712h1v1h-1zM1647 712h4v1h-4zM133 713h1v1h-1zM168 713h3v1h-3zM181 713h3v1h-3zM186 713h2v1h-2zM197 713h2v1h-2zM309 713h8v1h-8zM330 713h1v1h-1zM383 713h1v1h-1zM392 713h5v1h-5zM519 713h4v1h-4zM847 713h1v1h-1zM856 713h3v1h-3zM870 713h2v1h-2zM971 713h4v1h-4zM991 713h2v1h-2zM994 713h2v1h-2zM1013 713h1v1h-1zM1200 713h1v1h-1zM1295 713h1v1h-1zM1344 713h2v1h-2zM1391 713h11v1h-11zM1429 713h5v1h-5zM1612 713h1v1h-1zM1643 713h4v1h-4zM1651 713h2v1h-2zM133 714h1v1h-1zM184 714h2v1h-2zM199 714h2v1h-2zM301 714h8v1h-8zM317 714h13v1h-13zM384 714h1v1h-1zM389 714h3v1h-3zM848 714h1v1h-1zM853 714h3v1h-3zM872 714h3v1h-3zM967 714h4v1h-4zM993 714h1v1h-1zM1014 714h1v1h-1zM1199 714h1v1h-1zM1296 714h1v1h-1zM1341 714h3v1h-3zM1402 714h1v1h-1zM1424 714h5v1h-5zM1613 714h1v1h-1zM1641 714h2v1h-2zM1653 714h3v1h-3zM132 715h1v1h-1zM201 715h1v1h-1zM297 715h4v1h-4zM384 715h1v1h-1zM387 715h2v1h-2zM848 715h1v1h-1zM851 715h2v1h-2zM875 715h2v1h-2zM963 715h4v1h-4zM1014 715h1v1h-1zM1120 715h3v1h-3zM1197 715h2v1h-2zM1297 715h1v1h-1zM1320 715h13v1h-13zM1339 715h2v1h-2zM1403 715h2v1h-2zM1422 715h2v1h-2zM1613 715h1v1h-1zM1639 715h2v1h-2zM1656 715h10v1h-10zM131 716h1v1h-1zM202 716h2v1h-2zM295 716h2v1h-2zM385 716h2v1h-2zM849 716h2v1h-2zM877 716h3v1h-3zM959 716h4v1h-4zM1014 716h1v1h-1zM1117 716h3v1h-3zM1123 716h4v1h-4zM1196 716h1v1h-1zM1298 716h2v1h-2zM1317 716h3v1h-3zM1333 716h6v1h-6zM1405 716h1v1h-1zM1420 716h2v1h-2zM1614 716h1v1h-1zM1637 716h2v1h-2zM130 717h1v1h-1zM204 717h1v1h-1zM294 717h1v1h-1zM880 717h2v1h-2zM955 717h4v1h-4zM1015 717h1v1h-1zM1115 717h2v1h-2zM1127 717h6v1h-6zM1195 717h1v1h-1zM1300 717h1v1h-1zM1315 717h2v1h-2zM1406 717h1v1h-1zM1418 717h2v1h-2zM1614 717h1v1h-1zM1636 717h1v1h-1zM125 718h5v1h-5zM205 718h2v1h-2zM241 718h2v1h-2zM293 718h1v1h-1zM882 718h1v1h-1zM953 718h2v1h-2zM1015 718h1v1h-1zM1109 718h6v1h-6zM1133 718h8v1h-8zM1194 718h1v1h-1zM1301 718h2v1h-2zM1311 718h4v1h-4zM1407 718h2v1h-2zM1413 718h5v1h-5zM1615 718h1v1h-1zM1634 718h2v1h-2zM117 719h8v1h-8zM207 719h2v1h-2zM213 719h13v1h-13zM240 719h1v1h-1zM243 719h4v1h-4zM291 719h2v1h-2zM882 719h1v1h-1zM952 719h1v1h-1zM1016 719h1v1h-1zM1048 719h2v1h-2zM1104 719h5v1h-5zM1141 719h6v1h-6zM1189 719h5v1h-5zM1303 719h2v1h-2zM1307 719h4v1h-4zM1409 719h4v1h-4zM1615 719h1v1h-1zM1624 719h10v1h-10zM79 720h3v1h-3zM111 720h6v1h-6zM209 720h4v1h-4zM226 720h1v1h-1zM239 720h1v1h-1zM247 720h4v1h-4zM279 720h6v1h-6zM290 720h1v1h-1zM883 720h1v1h-1zM952 720h1v1h-1zM1016 720h1v1h-1zM1045 720h3v1h-3zM1050 720h2v1h-2zM1101 720h3v1h-3zM1147 720h4v1h-4zM1184 720h5v1h-5zM1305 720h2v1h-2zM1616 720h1v1h-1zM1622 720h2v1h-2zM75 721h4v1h-4zM82 721h1v1h-1zM107 721h4v1h-4zM227 721h1v1h-1zM239 721h1v1h-1zM251 721h4v1h-4zM275 721h4v1h-4zM285 721h5v1h-5zM883 721h1v1h-1zM951 721h1v1h-1zM1017 721h1v1h-1zM1043 721h2v1h-2zM1052 721h2v1h-2zM1099 721h2v1h-2zM1151 721h3v1h-3zM1182 721h2v1h-2zM1616 721h1v1h-1zM1620 721h2v1h-2zM72 722h3v1h-3zM83 722h2v1h-2zM104 722h3v1h-3zM228 722h1v1h-1zM238 722h1v1h-1zM255 722h20v1h-20zM884 722h1v1h-1zM951 722h1v1h-1zM1017 722h1v1h-1zM1041 722h2v1h-2zM1054 722h2v1h-2zM1097 722h2v1h-2zM1153 722h1v1h-1zM1180 722h2v1h-2zM1617 722h3v1h-3zM45 723h5v1h-5zM70 723h2v1h-2zM85 723h1v1h-1zM101 723h3v1h-3zM229 723h1v1h-1zM237 723h1v1h-1zM884 723h1v1h-1zM950 723h1v1h-1zM1018 723h2v1h-2zM1040 723h1v1h-1zM1056 723h2v1h-2zM1096 723h1v1h-1zM1154 723h1v1h-1zM1178 723h2v1h-2zM1617 723h1v1h-1zM40 724h5v1h-5zM50 724h2v1h-2zM68 724h2v1h-2zM86 724h1v1h-1zM99 724h2v1h-2zM229 724h1v1h-1zM236 724h1v1h-1zM885 724h1v1h-1zM950 724h1v1h-1zM1020 724h1v1h-1zM1040 724h1v1h-1zM1058 724h2v1h-2zM1095 724h1v1h-1zM1154 724h1v1h-1zM1173 724h5v1h-5zM38 725h2v1h-2zM52 725h2v1h-2zM66 725h2v1h-2zM87 725h2v1h-2zM93 725h6v1h-6zM230 725h1v1h-1zM235 725h1v1h-1zM886 725h1v1h-1zM949 725h1v1h-1zM1021 725h2v1h-2zM1039 725h1v1h-1zM1060 725h1v1h-1zM1094 725h1v1h-1zM1155 725h1v1h-1zM1169 725h4v1h-4zM36 726h2v1h-2zM54 726h2v1h-2zM61 726h5v1h-5zM89 726h4v1h-4zM231 726h1v1h-1zM235 726h1v1h-1zM886 726h1v1h-1zM948 726h1v1h-1zM1023 726h2v1h-2zM1038 726h1v1h-1zM1061 726h2v1h-2zM1093 726h1v1h-1zM1155 726h1v1h-1zM1168 726h1v1h-1zM34 727h2v1h-2zM56 727h5v1h-5zM232 727h1v1h-1zM234 727h1v1h-1zM887 727h1v1h-1zM948 727h1v1h-1zM1025 727h1v1h-1zM1037 727h1v1h-1zM1063 727h2v1h-2zM1069 727h8v1h-8zM1093 727h1v1h-1zM1156 727h1v1h-1zM1168 727h1v1h-1zM33 728h1v1h-1zM233 728h1v1h-1zM887 728h1v1h-1zM912 728h3v1h-3zM947 728h1v1h-1zM1026 728h1v1h-1zM1037 728h1v1h-1zM1065 728h4v1h-4zM1077 728h6v1h-6zM1092 728h1v1h-1zM1156 728h1v1h-1zM1167 728h1v1h-1zM32 729h1v1h-1zM888 729h1v1h-1zM909 729h3v1h-3zM915 729h4v1h-4zM947 729h1v1h-1zM1027 729h2v1h-2zM1036 729h1v1h-1zM1083 729h2v1h-2zM1091 729h1v1h-1zM1157 729h1v1h-1zM1167 729h1v1h-1zM32 730h1v1h-1zM888 730h1v1h-1zM907 730h2v1h-2zM919 730h6v1h-6zM946 730h1v1h-1zM1029 730h1v1h-1zM1035 730h1v1h-1zM1085 730h3v1h-3zM1090 730h1v1h-1zM1157 730h1v1h-1zM1166 730h1v1h-1zM31 731h1v1h-1zM889 731h2v1h-2zM903 731h4v1h-4zM925 731h5v1h-5zM946 731h1v1h-1zM1030 731h1v1h-1zM1034 731h1v1h-1zM1088 731h2v1h-2zM1158 731h1v1h-1zM1165 731h1v1h-1zM31 732h1v1h-1zM891 732h4v1h-4zM899 732h4v1h-4zM930 732h1v1h-1zM945 732h1v1h-1zM1031 732h2v1h-2zM1034 732h1v1h-1zM1158 732h1v1h-1zM1165 732h1v1h-1zM30 733h1v1h-1zM895 733h4v1h-4zM931 733h1v1h-1zM943 733h2v1h-2zM1033 733h1v1h-1zM1159 733h1v1h-1zM1164 733h1v1h-1zM30 734h1v1h-1zM932 734h1v1h-1zM942 734h1v1h-1zM1159 734h1v1h-1zM1163 734h1v1h-1zM29 735h1v1h-1zM933 735h2v1h-2zM941 735h1v1h-1zM1160 735h1v1h-1zM1163 735h1v1h-1zM28 736h1v1h-1zM935 736h1v1h-1zM939 736h2v1h-2zM1160 736h1v1h-1zM1162 736h1v1h-1zM28 737h1v1h-1zM936 737h1v1h-1zM938 737h1v1h-1zM1161 737h2v1h-2zM9 738h9v1h-9zM27 738h1v1h-1zM937 738h1v1h-1zM1161 738h1v1h-1zM18 739h2v1h-2zM27 739h1v1h-1zM20 740h2v1h-2zM26 740h1v1h-1zM22 741h2v1h-2zM26 741h1v1h-1zM24 742h2v1h-2z" fill="#1e90ff"/>
</g>
<text x="13.5" y="683" font-family='"Liberation Sans", sans-serif' font-size="10" textLength="67.4" lengthAdjust="spacingAndGlyphs" fill="#000" stroke="#000" stroke-width="0.2">RSI(14) 57.4074</text>
<text x="1689" y="681.2" font-family='"Liberation Sans", sans-serif' font-size="10" textLength="14.5" lengthAdjust="spacingAndGlyphs" fill="#000" stroke="#000" stroke-width="0.2">100</text>
<rect x="1685" y="702" width="3" height="1" fill="#000"/>
<text x="1689" y="706.2" font-family='"Liberation Sans", sans-serif' font-size="10" textLength="9.5" lengthAdjust="spacingAndGlyphs" fill="#000" stroke="#000" stroke-width="0.2">70</text>
<rect x="1685" y="744" width="3" height="1" fill="#000"/>
<text x="1689" y="748.2" font-family='"Liberation Sans", sans-serif' font-size="10" textLength="9.5" lengthAdjust="spacingAndGlyphs" fill="#000" stroke="#000" stroke-width="0.2">30</text>
<text x="1689" y="772.2" font-family='"Liberation Sans", sans-serif' font-size="10" textLength="4.8" lengthAdjust="spacingAndGlyphs" fill="#000" stroke="#000" stroke-width="0.2">0</text>
<rect x="9" y="776" width="1" height="4" fill="#000"/>
<text x="8" y="788" font-family='"Liberation Sans", sans-serif' font-size="10" textLength="46.9" lengthAdjust="spacingAndGlyphs" fill="#000" stroke="#000" stroke-width="0.2">3 Dec 2019</text>
<rect x="73" y="776" width="1" height="4" fill="#000"/>
<text x="72" y="788" font-family='"Liberation Sans", sans-serif' font-size="10" textLength="49.4" lengthAdjust="spacingAndGlyphs" fill="#000" stroke="#000" stroke-width="0.2">5 Dec 04:00</text>
<rect x="137" y="776" width="1" height="4" fill="#000"/>
<text x="136" y="788" font-family='"Liberation Sans", sans-serif' font-size="10" textLength="49.4" lengthAdjust="spacingAndGlyphs" fill="#000" stroke="#000" stroke-width="0.2">6 Dec 12:00</text>
<rect x="201" y="776" width="1" height="4" fill="#000"/>
<text x="200" y="788" font-family='"Liberation Sans", sans-serif' font-size="10" textLength="49.4" lengthAdjust="spacingAndGlyphs" fill="#000" stroke="#000" stroke-width="0.2">9 Dec 16:00</text>
<rect x="265" y="776" width="1" height="4" fill="#000"/>
<text x="264" y="788" font-family='"Liberation Sans", sans-serif' font-size="10" textLength="53.8" lengthAdjust="spacingAndGlyphs" fill="#000" stroke="#000" stroke-width="0.2">11 Dec 00:00</text>
<rect x="329" y="776" width="1" height="4" fill="#000"/>
<text x="328" y="788" font-family='"Liberation Sans", sans-serif' font-size="10" textLength="54.5" lengthAdjust="spacingAndGlyphs" fill="#000" stroke="#000" stroke-width="0.2">12 Dec 08:00</text>
<rect x="393" y="776" width="1" height="4" fill="#000"/>
<text x="392" y="788" font-family='"Liberation Sans", sans-serif' font-size="10" textLength="54.5" lengthAdjust="spacingAndGlyphs" fill="#000" stroke="#000" stroke-width="0.2">13 Dec 16:00</text>
<rect x="457" y="776" width="1" height="4" fill="#000"/>
<text x="456" y="788" font-family='"Liberation Sans", sans-serif' font-size="10" textLength="54.5" lengthAdjust="spacingAndGlyphs" fill="#000" stroke="#000" stroke-width="0.2">16 Dec 20:00</text>
<rect x="521" y="776" width="1" height="4" fill="#000"/>
<text x="520" y="788" font-family='"Liberation Sans", sans-serif' font-size="10" textLength="54.5" lengthAdjust="spacingAndGlyphs" fill="#000" stroke="#000" stroke-width="0.2">18 Dec 04:00</text>
<rect x="585" y="776" width="1" height="4" fill="#000"/>
<text x="584" y="788" font-family='"Liberation Sans", sans-serif' font-size="10" textLength="54.5" lengthAdjust="spacingAndGlyphs" fill="#000" stroke="#000" stroke-width="0.2">19 Dec 12:00</text>
<rect x="649" y="776" width="1" height="4" fill="#000"/>
<text x="648" y="788" font-family='"Liberation Sans", sans-serif' font-size="10" textLength="54.5" lengthAdjust="spacingAndGlyphs" fill="#000" stroke="#000" stroke-width="0.2">20 Dec 20:00</text>
<rect x="713" y="776" width="1" height="4" fill="#000"/>
<text x="712" y="788" font-family='"Liberation Sans", sans-serif' font-size="10" textLength="54.5" lengthAdjust="spacingAndGlyphs" fill="#000" stroke="#000" stroke-width="0.2">24 Dec 00:00</text>
<rect x="777" y="776" width="1" height="4" fill="#000"/>
<text x="776" y="788" font-family='"Liberation Sans", sans-serif' font-size="10" textLength="54.5" lengthAdjust="spacingAndGlyphs" fill="#000" stroke="#000" stroke-width="0.2">26 Dec 08:00</text>
<rect x="841" y="776" width="1" height="4" fill="#000"/>
<text x="840" y="788" font-family='"Liberation Sans", sans-serif' font-size="10" textLength="54.5" lengthAdjust="spacingAndGlyphs" fill="#000" stroke="#000" stroke-width="0.2">27 Dec 16:00</text>
<rect x="905" y="776" width="1" height="4" fill="#000"/>
<text x="904" y="788" font-family='"Liberation Sans", sans-serif' font-size="10" textLength="54.5" lengthAdjust="spacingAndGlyphs" fill="#000" stroke="#000" stroke-width="0.2">30 Dec 20:00</text>
<rect x="969" y="776" width="1" height="4" fill="#000"/>
<text x="968" y="788" font-family='"Liberation Sans", sans-serif' font-size="10" textLength="47.9" lengthAdjust="spacingAndGlyphs" fill="#000" stroke="#000" stroke-width="0.2">2 Jan 00:00</text>
<rect x="1033" y="776" width="1" height="4" fill="#000"/>
<text x="1032" y="788" font-family='"Liberation Sans", sans-serif' font-size="10" textLength="47.9" lengthAdjust="spacingAndGlyphs" fill="#000" stroke="#000" stroke-width="0.2">3 Jan 08:00</text>
<rect x="1097" y="776" width="1" height="4" fill="#000"/>
<text x="1096" y="788" font-family='"Liberation Sans", sans-serif' font-size="10" textLength="47.9" lengthAdjust="spacingAndGlyphs" fill="#000" stroke="#000" stroke-width="0.2">6 Jan 12:00</text>
<rect x="1161" y="776" width="1" height="4" fill="#000"/>
<text x="1160" y="788" font-family='"Liberation Sans", sans-serif' font-size="10" textLength="47.9" lengthAdjust="spacingAndGlyphs" fill="#000" stroke="#000" stroke-width="0.2">7 Jan 20:00</text>
<rect x="1225" y="776" width="1" height="4" fill="#000"/>
<text x="1224" y="788" font-family='"Liberation Sans", sans-serif' font-size="10" textLength="47.9" lengthAdjust="spacingAndGlyphs" fill="#000" stroke="#000" stroke-width="0.2">9 Jan 04:00</text>
<rect x="1289" y="776" width="1" height="4" fill="#000"/>
<text x="1288" y="788" font-family='"Liberation Sans", sans-serif' font-size="10" textLength="53.0" lengthAdjust="spacingAndGlyphs" fill="#000" stroke="#000" stroke-width="0.2">10 Jan 12:00</text>
<rect x="1353" y="776" width="1" height="4" fill="#000"/>
<text x="1352" y="788" font-family='"Liberation Sans", sans-serif' font-size="10" textLength="53.0" lengthAdjust="spacingAndGlyphs" fill="#000" stroke="#000" stroke-width="0.2">13 Jan 16:00</text>
<rect x="1417" y="776" width="1" height="4" fill="#000"/>
<text x="1416" y="788" font-family='"Liberation Sans", sans-serif' font-size="10" textLength="53.0" lengthAdjust="spacingAndGlyphs" fill="#000" stroke="#000" stroke-width="0.2">15 Jan 00:00</text>
<rect x="1481" y="776" width="1" height="4" fill="#000"/>
<text x="1480" y="788" font-family='"Liberation Sans", sans-serif' font-size="10" textLength="53.0" lengthAdjust="spacingAndGlyphs" fill="#000" stroke="#000" stroke-width="0.2">16 Jan 08:00</text>
<rect x="1545" y="776" width="1" height="4" fill="#000"/>
<text x="1544" y="788" font-family='"Liberation Sans", sans-serif' font-size="10" textLength="53.0" lengthAdjust="spacingAndGlyphs" fill="#000" stroke="#000" stroke-width="0.2">17 Jan 16:00</text>
<rect x="1609" y="776" width="1" height="4" fill="#000"/>
<text x="1608" y="788" font-family='"Liberation Sans", sans-serif' font-size="10" textLength="53.0" lengthAdjust="spacingAndGlyphs" fill="#000" stroke="#000" stroke-width="0.2">20 Jan 23:00</text>
<path d="M1245.6 355.3 L1232.8 365.1 M1241.6 359.8 L1258.2 359.8 Q1250 368 1231 372.1 M1240.3 363.6 L1244.1 366.8 M1250.1 368.6 L1233.5 378.1 M1246.1 371.6 L1259.7 371.6 Q1250 382 1232.3 384.7 M1243.6 376.6 L1246.6 379.6 M1276.5 355.5 L1278.8 358.8 M1264.9 364.8 L1264.9 360.3 L1290.8 360.3 L1290.8 364.8 M1274 364.6 L1263.4 371.1 M1281.5 364.3 L1292.1 371.4 M1267.2 372.9 L1288.8 372.9 M1277.7 373.6 L1277.7 382.7 M1263.7 383.4 L1292.1 383.4 M1295.1 361.1 L1307.4 361.1 M1301.4 355.7 L1296.3 371.2 L1307.4 371.2 M1302.7 364.6 L1302.7 385.5 M1294.5 379.5 L1307.4 377.3 M1309.6 361.7 L1323.9 361.7 M1308.7 367.1 L1324.8 367.1 M1316 356 L1310.9 374.1 L1322.9 374.1 L1316.6 379.8 M1310.3 377.9 L1320.4 385.5 M1327 363 L1336.9 363 M1332.1 356.3 L1332.1 384.5 L1328 384.5 M1326.7 374.4 L1336.9 370.3 M1355.9 357.6 L1340.7 358.5 L1340.7 375.3 Q1340.7 381 1336.2 385.1 M1340.7 368.4 L1357.1 368.4 M1350.8 368.4 L1350.8 385.8 M1373.6 355.4 L1373.6 365.2 M1373.6 359.8 L1388.5 359.8 M1362.8 365.2 L1385 365.2 L1385 376 L1362.8 376 Z M1363.5 378.8 L1359.3 385.1 M1368.9 378.5 L1370.7 384.5 M1376.1 378.5 L1378.7 384.2 M1383.7 378.8 L1387.8 384.8" fill="none" stroke="#ff1a00" stroke-width="2" stroke-linecap="butt" stroke-linejoin="miter"/>
<text x="1391" y="382" font-family='"Liberation Sans", sans-serif' font-size="37" textLength="73.5" lengthAdjust="spacingAndGlyphs" fill="#ff1a00" stroke="#fff" stroke-width="0.45">3285</text>
</svg>
</body></html>
